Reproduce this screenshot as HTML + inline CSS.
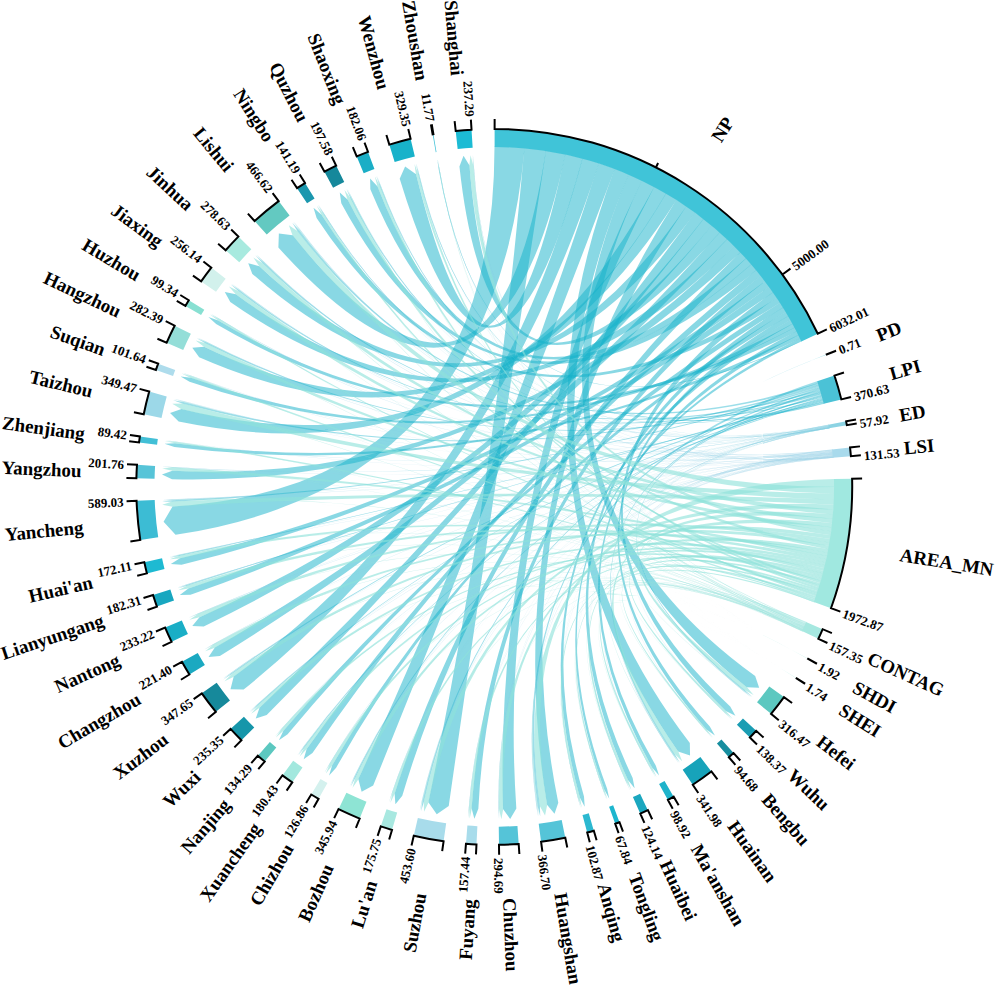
<!DOCTYPE html>
<html><head><meta charset="utf-8"><style>
html,body{margin:0;padding:0;background:#fff;}
svg{display:block;}
.v{font-size:13px;dominant-baseline:central;}
.n{font-size:18.9px;dominant-baseline:central;}
text{font-family:"Liberation Serif",serif;font-weight:bold;fill:#000;}
</style></head><body>
<svg width="996" height="987" viewBox="0 0 996 987">
<rect width="996" height="987" fill="#fff"/>
<path d="M494.52,146.47 A340.40,340.40 0 0 1 524.59,147.82 Q494.25,486.87 175.54,534.82 L163.58,521.74 L172.55,506.46 Q494.25,486.87 494.52,146.47Z" fill="#14B1CA" fill-opacity="0.5"/>
<path d="M524.41,147.81 A340.40,340.40 0 0 1 546.09,150.44 Q494.25,486.87 448.73,805.94 L436.75,814.36 L428.36,802.36 Q494.25,486.87 524.41,147.81Z" fill="#14B1CA" fill-opacity="0.5"/>
<path d="M545.91,150.41 A340.40,340.40 0 0 1 565.47,154.00 Q494.25,486.87 278.39,247.54 L278.87,233.56 L292.74,235.33 Q494.25,486.87 545.91,150.41Z" fill="#14B1CA" fill-opacity="0.5"/>
<path d="M565.29,153.97 A340.40,340.40 0 0 1 582.71,158.17 Q494.25,486.87 399.70,178.75 L405.12,166.54 L416.06,174.20 Q494.25,486.87 565.29,153.97Z" fill="#14B1CA" fill-opacity="0.5"/>
<path d="M582.54,158.12 A340.40,340.40 0 0 1 599.04,163.00 Q494.25,486.87 243.64,689.53 L230.50,689.34 L233.71,676.60 Q494.25,486.87 582.54,158.12Z" fill="#14B1CA" fill-opacity="0.5"/>
<path d="M598.87,162.95 A340.40,340.40 0 0 1 615.02,168.62 Q494.25,486.87 373.17,785.56 L361.62,791.77 L358.29,779.09 Q494.25,486.87 598.87,162.95Z" fill="#14B1CA" fill-opacity="0.5"/>
<path d="M614.85,168.55 A340.40,340.40 0 0 1 628.99,174.27 Q494.25,486.87 689.82,743.05 L690.04,755.62 L678.14,751.56 Q494.25,486.87 614.85,168.55Z" fill="#14B1CA" fill-opacity="0.5"/>
<path d="M628.83,174.20 A340.40,340.40 0 0 1 642.21,180.31 Q494.25,486.87 755.18,676.07 L759.15,687.83 L746.75,687.17 Q494.25,486.87 628.83,174.20Z" fill="#14B1CA" fill-opacity="0.5"/>
<path d="M642.05,180.23 A340.40,340.40 0 0 1 654.59,186.60 Q494.25,486.87 516.34,808.41 L510.18,818.99 L503.03,809.05 Q494.25,486.87 642.05,180.23Z" fill="#14B1CA" fill-opacity="0.5"/>
<path d="M654.44,186.52 A340.40,340.40 0 0 1 666.36,193.18 Q494.25,486.87 178.63,421.61 L170.06,413.02 L181.50,408.99 Q494.25,486.87 654.44,186.52Z" fill="#14B1CA" fill-opacity="0.5"/>
<path d="M666.20,193.09 A340.40,340.40 0 0 1 676.69,199.49 Q494.25,486.87 199.18,357.21 L192.31,347.64 L204.05,346.64 Q494.25,486.87 666.20,193.09Z" fill="#14B1CA" fill-opacity="0.5"/>
<path d="M676.53,199.39 A340.40,340.40 0 0 1 686.62,206.04 Q494.25,486.87 558.29,802.74 L554.52,813.86 L547.04,804.82 Q494.25,486.87 676.53,199.39Z" fill="#14B1CA" fill-opacity="0.5"/>
<path d="M686.47,205.94 A340.40,340.40 0 0 1 695.39,212.25 Q494.25,486.87 252.35,273.88 L248.26,263.16 L259.32,266.22 Q494.25,486.87 686.47,205.94Z" fill="#14B1CA" fill-opacity="0.5"/>
<path d="M695.24,212.14 A340.40,340.40 0 0 1 703.89,218.68 Q494.25,486.87 266.69,715.11 L255.76,718.56 L259.53,707.74 Q494.25,486.87 695.24,212.14Z" fill="#14B1CA" fill-opacity="0.5"/>
<path d="M703.75,218.57 A340.40,340.40 0 0 1 712.11,225.32 Q494.25,486.87 203.73,626.43 L192.30,626.10 L199.47,617.18 Q494.25,486.87 703.75,218.57Z" fill="#14B1CA" fill-opacity="0.5"/>
<path d="M711.97,225.20 A340.40,340.40 0 0 1 720.04,232.13 Q494.25,486.87 459.45,166.45 L463.52,155.79 L469.49,165.52 Q494.25,486.87 711.97,225.20Z" fill="#14B1CA" fill-opacity="0.5"/>
<path d="M719.91,232.02 A340.40,340.40 0 0 1 727.45,238.90 Q494.25,486.87 219.84,655.91 L208.57,656.99 L214.89,647.60 Q494.25,486.87 719.91,232.02Z" fill="#14B1CA" fill-opacity="0.5"/>
<path d="M727.32,238.77 A340.40,340.40 0 0 1 734.55,245.77 Q494.25,486.87 230.29,301.93 L224.79,292.07 L235.88,294.20 Q494.25,486.87 727.32,238.77Z" fill="#14B1CA" fill-opacity="0.5"/>
<path d="M734.42,245.64 A340.40,340.40 0 0 1 740.76,252.13 Q494.25,486.87 172.04,479.24 L161.98,474.56 L172.36,470.64 Q494.25,486.87 734.42,245.64Z" fill="#14B1CA" fill-opacity="0.5"/>
<path d="M740.64,252.00 A340.40,340.40 0 0 1 746.40,258.20 Q494.25,486.87 402.28,795.77 L395.41,804.34 L394.61,793.38 Q494.25,486.87 740.64,252.00Z" fill="#14B1CA" fill-opacity="0.5"/>
<path d="M746.28,258.06 A340.40,340.40 0 0 1 751.72,264.20 Q494.25,486.87 370.33,189.35 L370.12,178.41 L377.54,186.44 Q494.25,486.87 746.28,258.06Z" fill="#14B1CA" fill-opacity="0.5"/>
<path d="M751.61,264.07 A340.40,340.40 0 0 1 756.57,269.93 Q494.25,486.87 341.29,203.18 L339.77,192.44 L347.74,199.79 Q494.25,486.87 751.61,264.07Z" fill="#14B1CA" fill-opacity="0.5"/>
<path d="M756.45,269.79 A340.40,340.40 0 0 1 761.15,275.60 Q494.25,486.87 312.45,753.00 L303.69,759.35 L306.65,748.94 Q494.25,486.87 756.45,269.79Z" fill="#14B1CA" fill-opacity="0.5"/>
<path d="M761.04,275.46 A340.40,340.40 0 0 1 765.40,281.08 Q494.25,486.87 478.34,808.78 L474.36,818.77 L471.60,808.37 Q494.25,486.87 761.04,275.46Z" fill="#14B1CA" fill-opacity="0.5"/>
<path d="M765.29,280.94 A340.40,340.40 0 0 1 769.52,286.62 Q494.25,486.87 181.53,564.85 L170.81,563.95 L179.97,558.32 Q494.25,486.87 765.29,280.94Z" fill="#14B1CA" fill-opacity="0.5"/>
<path d="M769.41,286.48 A340.40,340.40 0 0 1 773.50,292.21 Q494.25,486.87 190.55,594.76 L179.80,594.92 L188.37,588.45 Q494.25,486.87 769.41,286.48Z" fill="#14B1CA" fill-opacity="0.5"/>
<path d="M773.40,292.07 A340.40,340.40 0 0 1 777.18,297.60 Q494.25,486.87 730.20,706.43 L735.42,715.76 L725.83,711.04 Q494.25,486.87 773.40,292.07Z" fill="#14B1CA" fill-opacity="0.5"/>
<path d="M777.08,297.45 A340.40,340.40 0 0 1 780.45,302.59 Q494.25,486.87 316.61,217.95 L313.50,207.79 L321.50,214.78 Q494.25,486.87 777.08,297.45Z" fill="#14B1CA" fill-opacity="0.5"/>
<path d="M780.35,302.43 A340.40,340.40 0 0 1 783.48,307.38 Q494.25,486.87 287.63,734.22 L278.90,740.21 L283.40,730.63 Q494.25,486.87 780.35,302.43Z" fill="#14B1CA" fill-opacity="0.5"/>
<path d="M783.39,307.23 A340.40,340.40 0 0 1 786.21,311.86 Q494.25,486.87 632.65,777.94 L634.62,788.29 L627.98,780.12 Q494.25,486.87 783.39,307.23Z" fill="#14B1CA" fill-opacity="0.5"/>
<path d="M786.12,311.70 A340.40,340.40 0 0 1 788.62,315.94 Q494.25,486.87 336.15,767.73 L329.06,775.43 L332.10,765.41 Q494.25,486.87 786.12,311.70Z" fill="#14B1CA" fill-opacity="0.5"/>
<path d="M788.53,315.78 A340.40,340.40 0 0 1 790.87,319.86 Q494.25,486.87 709.81,726.48 L714.92,735.59 L706.47,729.44 Q494.25,486.87 788.53,315.78Z" fill="#14B1CA" fill-opacity="0.5"/>
<path d="M790.78,319.71 A340.40,340.40 0 0 1 792.97,323.66 Q494.25,486.87 583.99,796.43 L584.70,806.83 L579.86,797.59 Q494.25,486.87 790.78,319.71Z" fill="#14B1CA" fill-opacity="0.5"/>
<path d="M792.89,323.50 A340.40,340.40 0 0 1 795.01,327.44 Q494.25,486.87 189.56,381.78 L180.64,376.39 L190.97,377.78 Q494.25,486.87 792.89,323.50Z" fill="#14B1CA" fill-opacity="0.5"/>
<path d="M794.92,327.28 A340.40,340.40 0 0 1 796.95,331.16 Q494.25,486.87 216.12,324.02 L208.40,317.02 L218.24,320.45 Q494.25,486.87 794.92,327.28Z" fill="#14B1CA" fill-opacity="0.5"/>
<path d="M796.87,331.00 A340.40,340.40 0 0 1 798.84,334.89 Q494.25,486.87 655.85,765.73 L659.11,775.62 L652.26,767.78 Q494.25,486.87 796.87,331.00Z" fill="#14B1CA" fill-opacity="0.5"/>
<path d="M798.76,334.73 A340.40,340.40 0 0 1 800.51,338.28 Q494.25,486.87 174.44,446.91 L164.56,443.73 L174.92,443.19 Q494.25,486.87 798.76,334.73Z" fill="#14B1CA" fill-opacity="0.5"/>
<path d="M800.43,338.12 A340.40,340.40 0 0 1 801.75,340.86 Q494.25,486.87 607.10,788.77 L609.28,798.84 L604.39,789.77 Q494.25,486.87 800.43,338.12Z" fill="#14B1CA" fill-opacity="0.5"/>
<path d="M801.67,340.70 A340.40,340.40 0 0 1 801.96,341.31 Q494.25,486.87 438.68,169.40 L437.25,159.29 L439.32,169.28 Q494.25,486.87 801.67,340.70Z" fill="#14B1CA" fill-opacity="0.5"/>
<path d="M810.47,360.86 A340.40,340.40 0 0 1 810.47,360.86 Q494.25,486.87 536.42,806.40 L537.75,816.51 L536.42,806.40 Q494.25,486.87 810.47,360.86Z" fill="#14B1CA" fill-opacity="0.3"/>
<path d="M810.47,360.86 A340.40,340.40 0 0 1 810.47,360.86 Q494.25,486.87 300.13,229.59 L293.98,221.45 L300.13,229.59 Q494.25,486.87 810.47,360.86Z" fill="#14B1CA" fill-opacity="0.3"/>
<path d="M810.47,360.86 A340.40,340.40 0 0 1 810.47,360.86 Q494.25,486.87 183.58,401.06 L173.75,398.34 L183.58,401.05 Q494.25,486.87 810.47,360.86Z" fill="#14B1CA" fill-opacity="0.3"/>
<path d="M810.47,360.86 A340.40,340.40 0 0 1 810.47,360.86 Q494.25,486.87 172.19,499.41 L162.00,499.81 L172.19,499.41 Q494.25,486.87 810.47,360.86Z" fill="#14B1CA" fill-opacity="0.3"/>
<path d="M810.47,360.86 A340.40,340.40 0 0 1 810.47,360.87 Q494.25,486.87 421.79,800.92 L419.49,810.86 L421.78,800.92 Q494.25,486.87 810.47,360.86Z" fill="#14B1CA" fill-opacity="0.3"/>
<path d="M810.47,360.87 A340.40,340.40 0 0 1 810.47,360.87 Q494.25,486.87 263.83,261.52 L256.54,254.38 L263.83,261.51 Q494.25,486.87 810.47,360.87Z" fill="#14B1CA" fill-opacity="0.3"/>
<path d="M810.47,360.87 A340.40,340.40 0 0 1 810.47,360.87 Q494.25,486.87 672.98,755.07 L678.64,763.56 L672.98,755.07 Q494.25,486.87 810.47,360.87Z" fill="#14B1CA" fill-opacity="0.3"/>
<path d="M810.47,360.87 A340.40,340.40 0 0 1 810.47,360.87 Q494.25,486.87 239.50,289.44 L231.44,283.19 L239.50,289.44 Q494.25,486.87 810.47,360.87Z" fill="#14B1CA" fill-opacity="0.3"/>
<path d="M810.47,360.87 A340.40,340.40 0 0 1 810.47,360.87 Q494.25,486.87 498.51,809.14 L498.65,819.34 L498.51,809.14 Q494.25,486.87 810.47,360.87Z" fill="#14B1CA" fill-opacity="0.3"/>
<path d="M810.47,360.87 A340.40,340.40 0 0 1 810.47,360.87 Q494.25,486.87 206.47,341.74 L197.37,337.15 L206.47,341.74 Q494.25,486.87 810.47,360.87Z" fill="#14B1CA" fill-opacity="0.3"/>
<path d="M810.47,360.87 A340.40,340.40 0 0 1 810.47,360.87 Q494.25,486.87 473.78,165.22 L473.13,155.04 L473.78,165.22 Q494.25,486.87 810.47,360.87Z" fill="#14B1CA" fill-opacity="0.3"/>
<path d="M810.47,360.87 A340.40,340.40 0 0 1 810.47,360.88 Q494.25,486.87 743.48,691.23 L751.36,697.70 L743.48,691.23 Q494.25,486.87 810.47,360.87Z" fill="#14B1CA" fill-opacity="0.3"/>
<path d="M810.47,360.88 A340.40,340.40 0 0 1 810.47,360.88 Q494.25,486.87 197.89,613.56 L188.51,617.56 L197.89,613.55 Q494.25,486.87 810.47,360.88Z" fill="#14B1CA" fill-opacity="0.3"/>
<path d="M810.47,360.88 A340.40,340.40 0 0 1 810.48,360.88 Q494.25,486.87 230.95,672.75 L222.62,678.63 L230.95,672.75 Q494.25,486.87 810.47,360.88Z" fill="#14B1CA" fill-opacity="0.3"/>
<path d="M810.48,360.88 A340.40,340.40 0 0 1 810.48,360.88 Q494.25,486.87 351.95,197.68 L347.45,188.53 L351.95,197.68 Q494.25,486.87 810.48,360.88Z" fill="#14B1CA" fill-opacity="0.3"/>
<path d="M810.48,360.88 A340.40,340.40 0 0 1 810.48,360.88 Q494.25,486.87 354.04,777.07 L349.60,786.26 L354.04,777.07 Q494.25,486.87 810.48,360.88Z" fill="#14B1CA" fill-opacity="0.3"/>
<path d="M810.48,360.88 A340.40,340.40 0 0 1 810.48,360.88 Q494.25,486.87 213.04,644.34 L204.14,649.32 L213.03,644.34 Q494.25,486.87 810.48,360.88Z" fill="#14B1CA" fill-opacity="0.3"/>
<path d="M810.48,360.88 A340.40,340.40 0 0 1 810.48,360.88 Q494.25,486.87 172.56,467.00 L162.38,466.37 L172.56,467.00 Q494.25,486.87 810.48,360.88Z" fill="#14B1CA" fill-opacity="0.3"/>
<path d="M810.48,360.88 A340.40,340.40 0 0 1 810.48,360.88 Q494.25,486.87 187.02,584.27 L177.30,587.35 L187.02,584.27 Q494.25,486.87 810.48,360.88Z" fill="#14B1CA" fill-opacity="0.3"/>
<path d="M810.48,360.88 A340.40,340.40 0 0 1 810.48,360.89 Q494.25,486.87 256.81,704.81 L249.29,711.71 L256.81,704.81 Q494.25,486.87 810.48,360.88Z" fill="#14B1CA" fill-opacity="0.3"/>
<path d="M810.48,360.89 A340.40,340.40 0 0 1 810.48,360.89 Q494.25,486.87 303.51,746.67 L297.47,754.89 L303.51,746.67 Q494.25,486.87 810.48,360.89Z" fill="#14B1CA" fill-opacity="0.3"/>
<path d="M810.48,360.89 A340.40,340.40 0 0 1 810.48,360.89 Q494.25,486.87 329.46,763.86 L324.25,772.62 L329.46,763.86 Q494.25,486.87 810.48,360.89Z" fill="#14B1CA" fill-opacity="0.3"/>
<path d="M810.48,360.89 A340.40,340.40 0 0 1 810.48,360.89 Q494.25,486.87 179.16,554.66 L169.19,556.81 L179.16,554.66 Q494.25,486.87 810.48,360.89Z" fill="#14B1CA" fill-opacity="0.3"/>
<path d="M810.48,360.89 A340.40,340.40 0 0 1 810.48,360.89 Q494.25,486.87 468.79,808.16 L467.98,818.33 L468.78,808.16 Q494.25,486.87 810.48,360.89Z" fill="#14B1CA" fill-opacity="0.3"/>
<path d="M810.48,360.89 A340.40,340.40 0 0 1 810.48,360.89 Q494.25,486.87 392.09,792.55 L388.86,802.23 L392.09,792.55 Q494.25,486.87 810.48,360.89Z" fill="#14B1CA" fill-opacity="0.3"/>
<path d="M810.48,360.89 A340.40,340.40 0 0 1 810.48,360.89 Q494.25,486.87 281.42,728.90 L274.68,736.56 L281.41,728.90 Q494.25,486.87 810.48,360.89Z" fill="#14B1CA" fill-opacity="0.3"/>
<path d="M810.48,360.89 A340.40,340.40 0 0 1 810.48,360.89 Q494.25,486.87 380.61,185.27 L377.01,175.73 L380.61,185.27 Q494.25,486.87 810.48,360.89Z" fill="#14B1CA" fill-opacity="0.3"/>
<path d="M810.48,360.89 A340.40,340.40 0 0 1 810.48,360.89 Q494.25,486.87 625.77,781.11 L629.93,790.43 L625.77,781.11 Q494.25,486.87 810.48,360.89Z" fill="#14B1CA" fill-opacity="0.3"/>
<path d="M810.48,360.89 A340.40,340.40 0 0 1 810.48,360.89 Q494.25,486.87 418.93,173.50 L416.54,163.58 L418.93,173.50 Q494.25,486.87 810.48,360.89Z" fill="#14B1CA" fill-opacity="0.3"/>
<path d="M810.48,360.89 A340.40,340.40 0 0 1 810.48,360.89 Q494.25,486.87 323.84,213.30 L318.45,204.65 L323.84,213.30 Q494.25,486.87 810.48,360.89Z" fill="#14B1CA" fill-opacity="0.3"/>
<path d="M810.48,360.89 A340.40,340.40 0 0 1 810.48,360.89 Q494.25,486.87 724.38,712.52 L731.66,719.66 L724.38,712.52 Q494.25,486.87 810.48,360.89Z" fill="#14B1CA" fill-opacity="0.3"/>
<path d="M810.48,360.89 A340.40,340.40 0 0 1 810.48,360.89 Q494.25,486.87 577.93,798.12 L580.58,807.97 L577.93,798.12 Q494.25,486.87 810.48,360.89Z" fill="#14B1CA" fill-opacity="0.3"/>
<path d="M810.48,360.89 A340.40,340.40 0 0 1 810.48,360.90 Q494.25,486.87 191.65,375.93 L182.07,372.42 L191.65,375.93 Q494.25,486.87 810.48,360.89Z" fill="#14B1CA" fill-opacity="0.3"/>
<path d="M810.48,360.90 A340.40,340.40 0 0 1 810.48,360.90 Q494.25,486.87 219.24,318.81 L210.53,313.49 L219.24,318.81 Q494.25,486.87 810.48,360.90Z" fill="#14B1CA" fill-opacity="0.3"/>
<path d="M810.48,360.90 A340.40,340.40 0 0 1 810.48,360.90 Q494.25,486.87 650.59,768.71 L655.53,777.63 L650.59,768.71 Q494.25,486.87 810.48,360.90Z" fill="#14B1CA" fill-opacity="0.3"/>
<path d="M810.48,360.90 A340.40,340.40 0 0 1 810.48,360.90 Q494.25,486.87 175.16,441.48 L165.06,440.05 L175.16,441.48 Q494.25,486.87 810.48,360.90Z" fill="#14B1CA" fill-opacity="0.3"/>
<path d="M810.48,360.90 A340.40,340.40 0 0 1 810.48,360.90 Q494.25,486.87 705.47,730.31 L712.15,738.02 L705.47,730.31 Q494.25,486.87 810.48,360.90Z" fill="#14B1CA" fill-opacity="0.3"/>
<path d="M810.48,360.90 A340.40,340.40 0 0 1 810.48,360.90 Q494.25,486.87 603.18,790.20 L606.63,799.80 L603.18,790.20 Q494.25,486.87 810.48,360.90Z" fill="#14B1CA" fill-opacity="0.3"/>
<path d="M810.48,360.90 A340.40,340.40 0 0 1 810.48,360.90 Q494.25,486.87 439.47,169.26 L437.74,159.21 L439.47,169.26 Q494.25,486.87 810.48,360.90Z" fill="#14B1CA" fill-opacity="0.3"/>
<path d="M817.75,380.94 A340.40,340.40 0 0 1 818.50,383.27 Q494.25,486.87 539.93,805.92 L540.19,816.18 L537.63,806.24 Q494.25,486.87 817.75,380.94Z" fill="#14B1CA" fill-opacity="0.42"/>
<path d="M818.45,383.10 A340.40,340.40 0 0 1 819.10,385.16 Q494.25,486.87 297.65,231.47 L292.27,222.75 L299.29,230.22 Q494.25,486.87 818.45,383.10Z" fill="#14B1CA" fill-opacity="0.42"/>
<path d="M819.04,384.98 A340.40,340.40 0 0 1 819.61,386.82 Q494.25,486.87 182.87,403.70 L173.26,400.16 L183.34,401.94 Q494.25,486.87 819.04,384.98Z" fill="#14B1CA" fill-opacity="0.42"/>
<path d="M819.56,386.64 A340.40,340.40 0 0 1 820.05,388.25 Q494.25,486.87 172.30,501.78 L162.07,501.43 L172.23,500.19 Q494.25,486.87 819.56,386.64Z" fill="#14B1CA" fill-opacity="0.42"/>
<path d="M820.00,388.08 A340.40,340.40 0 0 1 820.46,389.62 Q494.25,486.87 424.00,801.42 L421.00,811.20 L422.50,801.08 Q494.25,486.87 820.00,388.08Z" fill="#14B1CA" fill-opacity="0.42"/>
<path d="M820.41,389.45 A340.40,340.40 0 0 1 820.86,390.95 Q494.25,486.87 262.30,263.09 L255.49,255.46 L263.34,262.02 Q494.25,486.87 820.41,389.45Z" fill="#14B1CA" fill-opacity="0.42"/>
<path d="M820.80,390.78 A340.40,340.40 0 0 1 821.23,392.22 Q494.25,486.87 674.74,753.89 L679.83,762.76 L673.54,754.70 Q494.25,486.87 820.80,390.78Z" fill="#14B1CA" fill-opacity="0.42"/>
<path d="M821.18,392.05 A340.40,340.40 0 0 1 821.58,393.45 Q494.25,486.87 238.26,291.05 L230.59,284.28 L239.11,289.95 Q494.25,486.87 821.18,392.05Z" fill="#14B1CA" fill-opacity="0.42"/>
<path d="M821.53,393.27 A340.40,340.40 0 0 1 821.90,394.57 Q494.25,486.87 205.64,343.41 L196.80,338.28 L206.21,342.26 Q494.25,486.87 821.53,393.27Z" fill="#14B1CA" fill-opacity="0.42"/>
<path d="M821.85,394.39 A340.40,340.40 0 0 1 822.20,395.64 Q494.25,486.87 744.61,689.85 L752.13,696.76 L743.83,690.80 Q494.25,486.87 821.85,394.39Z" fill="#14B1CA" fill-opacity="0.42"/>
<path d="M822.15,395.47 A340.40,340.40 0 0 1 822.47,396.62 Q494.25,486.87 231.90,674.08 L223.25,679.53 L231.24,673.16 Q494.25,486.87 822.15,395.47Z" fill="#14B1CA" fill-opacity="0.42"/>
<path d="M822.42,396.44 A340.40,340.40 0 0 1 822.73,397.59 Q494.25,486.87 350.50,198.40 L346.47,189.01 L351.51,197.90 Q494.25,486.87 822.42,396.44Z" fill="#14B1CA" fill-opacity="0.42"/>
<path d="M822.68,397.41 A340.40,340.40 0 0 1 822.99,398.56 Q494.25,486.87 355.50,777.78 L350.58,786.73 L354.48,777.29 Q494.25,486.87 822.68,397.41Z" fill="#14B1CA" fill-opacity="0.42"/>
<path d="M822.95,398.38 A340.40,340.40 0 0 1 823.24,399.47 Q494.25,486.87 187.48,585.72 L177.60,588.32 L187.16,584.70 Q494.25,486.87 822.95,398.38Z" fill="#14B1CA" fill-opacity="0.42"/>
<path d="M823.19,399.29 A340.40,340.40 0 0 1 823.46,400.29 Q494.25,486.87 257.75,705.84 L249.92,712.39 L257.08,705.11 Q494.25,486.87 823.19,399.29Z" fill="#14B1CA" fill-opacity="0.42"/>
<path d="M823.41,400.12 A340.40,340.40 0 0 1 823.67,401.10 Q494.25,486.87 304.60,747.47 L298.20,755.42 L303.82,746.90 Q494.25,486.87 823.41,400.12Z" fill="#14B1CA" fill-opacity="0.42"/>
<path d="M823.62,400.92 A340.40,340.40 0 0 1 823.87,401.88 Q494.25,486.87 179.44,555.95 L169.37,557.66 L179.24,555.03 Q494.25,486.87 823.62,400.92Z" fill="#14B1CA" fill-opacity="0.42"/>
<path d="M823.82,401.70 A340.40,340.40 0 0 1 824.04,402.56 Q494.25,486.87 379.52,185.68 L376.29,176.00 L380.31,185.38 Q494.25,486.87 823.82,401.70Z" fill="#14B1CA" fill-opacity="0.42"/>
<path d="M824.00,402.39 A340.40,340.40 0 0 1 824.20,403.18 Q494.25,486.87 417.89,173.75 L415.87,163.74 L418.66,173.56 Q494.25,486.87 824.00,402.39Z" fill="#14B1CA" fill-opacity="0.42"/>
<path d="M824.16,403.01 A340.40,340.40 0 0 1 824.35,403.76 Q494.25,486.87 322.99,213.84 L317.90,204.99 L323.62,213.44 Q494.25,486.87 824.16,403.01Z" fill="#14B1CA" fill-opacity="0.42"/>
<path d="M828.89,424.49 A340.40,340.40 0 0 1 828.96,424.90 Q494.25,486.87 536.74,806.36 L537.88,816.50 L536.34,806.41 Q494.25,486.87 828.89,424.49Z" fill="#7CCFE2" fill-opacity="0.45"/>
<path d="M828.93,424.72 A340.40,340.40 0 0 1 829.00,425.09 Q494.25,486.87 299.89,229.76 L293.90,221.51 L300.19,229.54 Q494.25,486.87 828.93,424.72Z" fill="#7CCFE2" fill-opacity="0.45"/>
<path d="M828.96,424.91 A340.40,340.40 0 0 1 829.03,425.26 Q494.25,486.87 183.51,401.31 L173.73,398.43 L183.61,400.98 Q494.25,486.87 828.96,424.91Z" fill="#7CCFE2" fill-opacity="0.45"/>
<path d="M829.00,425.09 A340.40,340.40 0 0 1 829.06,425.41 Q494.25,486.87 172.20,499.65 L162.01,499.89 L172.19,499.33 Q494.25,486.87 829.00,425.09Z" fill="#7CCFE2" fill-opacity="0.45"/>
<path d="M829.02,425.24 A340.40,340.40 0 0 1 829.08,425.55 Q494.25,486.87 422.01,800.97 L419.57,810.87 L421.71,800.90 Q494.25,486.87 829.02,425.24Z" fill="#7CCFE2" fill-opacity="0.45"/>
<path d="M829.05,425.38 A340.40,340.40 0 0 1 829.11,425.69 Q494.25,486.87 263.67,261.68 L256.49,254.44 L263.89,261.46 Q494.25,486.87 829.05,425.38Z" fill="#7CCFE2" fill-opacity="0.45"/>
<path d="M829.07,425.51 A340.40,340.40 0 0 1 829.13,425.82 Q494.25,486.87 673.17,754.95 L678.70,763.52 L672.91,755.12 Q494.25,486.87 829.07,425.51Z" fill="#7CCFE2" fill-opacity="0.45"/>
<path d="M829.10,425.65 A340.40,340.40 0 0 1 829.15,425.95 Q494.25,486.87 239.37,289.61 L231.39,283.24 L239.55,289.37 Q494.25,486.87 829.10,425.65Z" fill="#7CCFE2" fill-opacity="0.45"/>
<path d="M829.12,425.77 A340.40,340.40 0 0 1 829.18,426.07 Q494.25,486.87 498.73,809.14 L498.72,819.34 L498.43,809.14 Q494.25,486.87 829.12,425.77Z" fill="#7CCFE2" fill-opacity="0.45"/>
<path d="M829.14,425.89 A340.40,340.40 0 0 1 829.20,426.18 Q494.25,486.87 206.38,341.93 L197.34,337.21 L206.51,341.67 Q494.25,486.87 829.14,425.89Z" fill="#7CCFE2" fill-opacity="0.45"/>
<path d="M829.16,426.01 A340.40,340.40 0 0 1 829.22,426.30 Q494.25,486.87 473.57,165.23 L473.07,155.05 L473.86,165.22 Q494.25,486.87 829.16,426.01Z" fill="#7CCFE2" fill-opacity="0.45"/>
<path d="M829.19,426.12 A340.40,340.40 0 0 1 829.24,426.41 Q494.25,486.87 743.61,691.07 L751.40,697.65 L743.42,691.30 Q494.25,486.87 829.19,426.12Z" fill="#7CCFE2" fill-opacity="0.45"/>
<path d="M829.21,426.23 A340.40,340.40 0 0 1 829.26,426.51 Q494.25,486.87 197.97,613.74 L188.54,617.62 L197.86,613.48 Q494.25,486.87 829.21,426.23Z" fill="#7CCFE2" fill-opacity="0.45"/>
<path d="M829.22,426.33 A340.40,340.40 0 0 1 829.27,426.61 Q494.25,486.87 231.06,672.91 L222.65,678.68 L230.91,672.68 Q494.25,486.87 829.22,426.33Z" fill="#7CCFE2" fill-opacity="0.45"/>
<path d="M829.24,426.44 A340.40,340.40 0 0 1 829.29,426.71 Q494.25,486.87 351.78,197.77 L347.40,188.56 L352.03,197.65 Q494.25,486.87 829.24,426.44Z" fill="#7CCFE2" fill-opacity="0.45"/>
<path d="M829.26,426.53 A340.40,340.40 0 0 1 829.31,426.81 Q494.25,486.87 354.21,777.16 L349.65,786.28 L353.96,777.04 Q494.25,486.87 829.26,426.53Z" fill="#7CCFE2" fill-opacity="0.45"/>
<path d="M829.28,426.63 A340.40,340.40 0 0 1 829.33,426.91 Q494.25,486.87 213.13,644.50 L204.16,649.37 L212.99,644.26 Q494.25,486.87 829.28,426.63Z" fill="#7CCFE2" fill-opacity="0.45"/>
<path d="M829.30,426.73 A340.40,340.40 0 0 1 829.35,427.01 Q494.25,486.87 172.55,467.19 L162.38,466.43 L172.57,466.92 Q494.25,486.87 829.30,426.73Z" fill="#7CCFE2" fill-opacity="0.45"/>
<path d="M829.31,426.83 A340.40,340.40 0 0 1 829.36,427.10 Q494.25,486.87 187.07,584.44 L177.31,587.40 L186.99,584.19 Q494.25,486.87 829.31,426.83Z" fill="#7CCFE2" fill-opacity="0.45"/>
<path d="M829.33,426.92 A340.40,340.40 0 0 1 829.38,427.19 Q494.25,486.87 256.93,704.94 L249.33,711.75 L256.75,704.75 Q494.25,486.87 829.33,426.92Z" fill="#7CCFE2" fill-opacity="0.45"/>
<path d="M829.35,427.01 A340.40,340.40 0 0 1 829.39,427.27 Q494.25,486.87 303.65,746.77 L297.51,754.92 L303.44,746.62 Q494.25,486.87 829.35,427.01Z" fill="#7CCFE2" fill-opacity="0.45"/>
<path d="M829.36,427.09 A340.40,340.40 0 0 1 829.41,427.35 Q494.25,486.87 329.61,763.95 L324.28,772.65 L329.39,763.81 Q494.25,486.87 829.36,427.09Z" fill="#7CCFE2" fill-opacity="0.45"/>
<path d="M829.37,427.17 A340.40,340.40 0 0 1 829.42,427.43 Q494.25,486.87 179.20,554.83 L169.20,556.85 L179.14,554.58 Q494.25,486.87 829.37,427.17Z" fill="#7CCFE2" fill-opacity="0.45"/>
<path d="M829.39,427.25 A340.40,340.40 0 0 1 829.43,427.51 Q494.25,486.87 468.95,808.18 L468.02,818.33 L468.70,808.16 Q494.25,486.87 829.39,427.25Z" fill="#7CCFE2" fill-opacity="0.45"/>
<path d="M829.40,427.33 A340.40,340.40 0 0 1 829.45,427.58 Q494.25,486.87 392.25,792.60 L388.90,802.24 L392.01,792.52 Q494.25,486.87 829.40,427.33Z" fill="#7CCFE2" fill-opacity="0.45"/>
<path d="M829.41,427.40 A340.40,340.40 0 0 1 829.46,427.65 Q494.25,486.87 281.54,729.01 L274.71,736.59 L281.35,728.84 Q494.25,486.87 829.41,427.40Z" fill="#7CCFE2" fill-opacity="0.45"/>
<path d="M829.43,427.47 A340.40,340.40 0 0 1 829.47,427.72 Q494.25,486.87 380.46,185.33 L376.97,175.74 L380.69,185.24 Q494.25,486.87 829.43,427.47Z" fill="#7CCFE2" fill-opacity="0.45"/>
<path d="M829.44,427.54 A340.40,340.40 0 0 1 829.48,427.78 Q494.25,486.87 625.92,781.05 L629.97,790.41 L625.69,781.15 Q494.25,486.87 829.44,427.54Z" fill="#7CCFE2" fill-opacity="0.45"/>
<path d="M829.45,427.61 A340.40,340.40 0 0 1 829.49,427.85 Q494.25,486.87 418.78,173.53 L416.51,163.59 L419.01,173.48 Q494.25,486.87 829.45,427.61Z" fill="#7CCFE2" fill-opacity="0.45"/>
<path d="M829.46,427.67 A340.40,340.40 0 0 1 829.50,427.91 Q494.25,486.87 323.71,213.38 L318.42,204.66 L323.92,213.26 Q494.25,486.87 829.46,427.67Z" fill="#7CCFE2" fill-opacity="0.45"/>
<path d="M829.47,427.73 A340.40,340.40 0 0 1 829.51,427.96 Q494.25,486.87 724.48,712.41 L731.69,719.64 L724.32,712.58 Q494.25,486.87 829.47,427.73Z" fill="#7CCFE2" fill-opacity="0.45"/>
<path d="M829.48,427.78 A340.40,340.40 0 0 1 829.52,428.02 Q494.25,486.87 578.07,798.08 L580.61,807.96 L577.85,798.14 Q494.25,486.87 829.48,427.78Z" fill="#7CCFE2" fill-opacity="0.45"/>
<path d="M829.49,427.84 A340.40,340.40 0 0 1 829.53,428.07 Q494.25,486.87 191.60,376.07 L182.06,372.45 L191.68,375.85 Q494.25,486.87 829.49,427.84Z" fill="#7CCFE2" fill-opacity="0.45"/>
<path d="M829.50,427.89 A340.40,340.40 0 0 1 829.54,428.12 Q494.25,486.87 219.16,318.93 L210.52,313.51 L219.28,318.73 Q494.25,486.87 829.50,427.89Z" fill="#7CCFE2" fill-opacity="0.45"/>
<path d="M829.51,427.94 A340.40,340.40 0 0 1 829.55,428.17 Q494.25,486.87 650.71,768.64 L655.56,777.62 L650.51,768.76 Q494.25,486.87 829.51,427.94Z" fill="#7CCFE2" fill-opacity="0.45"/>
<path d="M829.52,428.00 A340.40,340.40 0 0 1 829.56,428.22 Q494.25,486.87 175.14,441.62 L165.06,440.07 L175.17,441.40 Q494.25,486.87 829.52,428.00Z" fill="#7CCFE2" fill-opacity="0.45"/>
<path d="M829.53,428.04 A340.40,340.40 0 0 1 829.57,428.26 Q494.25,486.87 705.56,730.23 L712.17,738.00 L705.40,730.37 Q494.25,486.87 829.53,428.04Z" fill="#7CCFE2" fill-opacity="0.45"/>
<path d="M829.53,428.08 A340.40,340.40 0 0 1 829.57,428.29 Q494.25,486.87 603.30,790.16 L606.65,799.80 L603.10,790.23 Q494.25,486.87 829.53,428.08Z" fill="#7CCFE2" fill-opacity="0.45"/>
<path d="M829.54,428.11 A340.40,340.40 0 0 1 829.57,428.30 Q494.25,486.87 439.37,169.28 L437.73,159.21 L439.56,169.24 Q494.25,486.87 829.54,428.11Z" fill="#7CCFE2" fill-opacity="0.45"/>
<path d="M832.57,449.31 A340.40,340.40 0 0 1 832.65,450.00 Q494.25,486.87 537.22,806.29 L538.24,816.45 L536.56,806.38 Q494.25,486.87 832.57,449.31Z" fill="#9AD4EA" fill-opacity="0.5"/>
<path d="M832.63,449.83 A340.40,340.40 0 0 1 832.70,450.45 Q494.25,486.87 299.55,230.02 L293.64,221.71 L300.04,229.66 Q494.25,486.87 832.63,449.83Z" fill="#9AD4EA" fill-opacity="0.5"/>
<path d="M832.68,450.28 A340.40,340.40 0 0 1 832.74,450.85 Q494.25,486.87 183.41,401.67 L173.65,398.70 L183.56,401.14 Q494.25,486.87 832.68,450.28Z" fill="#9AD4EA" fill-opacity="0.5"/>
<path d="M832.72,450.67 A340.40,340.40 0 0 1 832.77,451.19 Q494.25,486.87 172.22,499.98 L162.01,500.13 L172.20,499.47 Q494.25,486.87 832.72,450.67Z" fill="#9AD4EA" fill-opacity="0.5"/>
<path d="M832.76,451.01 A340.40,340.40 0 0 1 832.81,451.52 Q494.25,486.87 422.32,801.04 L419.79,810.93 L421.84,800.93 Q494.25,486.87 832.76,451.01Z" fill="#9AD4EA" fill-opacity="0.5"/>
<path d="M832.79,451.34 A340.40,340.40 0 0 1 832.84,451.83 Q494.25,486.87 263.46,261.89 L256.33,254.60 L263.80,261.55 Q494.25,486.87 832.79,451.34Z" fill="#9AD4EA" fill-opacity="0.5"/>
<path d="M832.82,451.65 A340.40,340.40 0 0 1 832.87,452.13 Q494.25,486.87 673.41,754.79 L678.88,763.40 L673.02,755.05 Q494.25,486.87 832.82,451.65Z" fill="#9AD4EA" fill-opacity="0.5"/>
<path d="M832.85,451.95 A340.40,340.40 0 0 1 832.90,452.42 Q494.25,486.87 239.20,289.83 L231.27,283.41 L239.48,289.47 Q494.25,486.87 832.85,451.95Z" fill="#9AD4EA" fill-opacity="0.5"/>
<path d="M832.88,452.24 A340.40,340.40 0 0 1 832.93,452.70 Q494.25,486.87 498.99,809.14 L498.91,819.34 L498.55,809.14 Q494.25,486.87 832.88,452.24Z" fill="#9AD4EA" fill-opacity="0.5"/>
<path d="M832.91,452.52 A340.40,340.40 0 0 1 832.96,452.96 Q494.25,486.87 206.27,342.16 L197.25,337.38 L206.46,341.77 Q494.25,486.87 832.91,452.52Z" fill="#9AD4EA" fill-opacity="0.5"/>
<path d="M832.94,452.78 A340.40,340.40 0 0 1 832.98,453.22 Q494.25,486.87 473.33,165.25 L472.89,155.06 L473.75,165.22 Q494.25,486.87 832.94,452.78Z" fill="#9AD4EA" fill-opacity="0.5"/>
<path d="M832.97,453.04 A340.40,340.40 0 0 1 833.01,453.48 Q494.25,486.87 743.76,690.89 L751.52,697.51 L743.49,691.21 Q494.25,486.87 832.97,453.04Z" fill="#9AD4EA" fill-opacity="0.5"/>
<path d="M832.99,453.30 A340.40,340.40 0 0 1 833.03,453.72 Q494.25,486.87 198.06,613.95 L188.60,617.77 L197.90,613.57 Q494.25,486.87 832.99,453.30Z" fill="#9AD4EA" fill-opacity="0.5"/>
<path d="M833.01,453.54 A340.40,340.40 0 0 1 833.05,453.95 Q494.25,486.87 231.19,673.09 L222.75,678.81 L230.96,672.76 Q494.25,486.87 833.01,453.54Z" fill="#9AD4EA" fill-opacity="0.5"/>
<path d="M833.04,453.77 A340.40,340.40 0 0 1 833.08,454.18 Q494.25,486.87 351.59,197.86 L347.25,188.63 L351.94,197.69 Q494.25,486.87 833.04,453.77Z" fill="#9AD4EA" fill-opacity="0.5"/>
<path d="M833.06,454.00 A340.40,340.40 0 0 1 833.10,454.40 Q494.25,486.87 354.41,777.25 L349.80,786.35 L354.05,777.08 Q494.25,486.87 833.06,454.00Z" fill="#9AD4EA" fill-opacity="0.5"/>
<path d="M833.08,454.22 A340.40,340.40 0 0 1 833.12,454.63 Q494.25,486.87 213.24,644.69 L204.24,649.51 L213.04,644.35 Q494.25,486.87 833.08,454.22Z" fill="#9AD4EA" fill-opacity="0.5"/>
<path d="M833.10,454.45 A340.40,340.40 0 0 1 833.14,454.86 Q494.25,486.87 172.54,467.40 L162.37,466.58 L172.56,467.01 Q494.25,486.87 833.10,454.45Z" fill="#9AD4EA" fill-opacity="0.5"/>
<path d="M833.12,454.68 A340.40,340.40 0 0 1 833.16,455.07 Q494.25,486.87 187.14,584.64 L177.36,587.54 L187.02,584.27 Q494.25,486.87 833.12,454.68Z" fill="#9AD4EA" fill-opacity="0.5"/>
<path d="M833.14,454.89 A340.40,340.40 0 0 1 833.18,455.26 Q494.25,486.87 257.05,705.08 L249.42,711.85 L256.81,704.81 Q494.25,486.87 833.14,454.89Z" fill="#9AD4EA" fill-opacity="0.5"/>
<path d="M833.16,455.08 A340.40,340.40 0 0 1 833.20,455.45 Q494.25,486.87 303.79,746.88 L297.62,755.00 L303.50,746.66 Q494.25,486.87 833.16,455.08Z" fill="#9AD4EA" fill-opacity="0.5"/>
<path d="M833.18,455.27 A340.40,340.40 0 0 1 833.21,455.64 Q494.25,486.87 329.76,764.04 L324.40,772.71 L329.46,763.85 Q494.25,486.87 833.18,455.27Z" fill="#9AD4EA" fill-opacity="0.5"/>
<path d="M833.20,455.46 A340.40,340.40 0 0 1 833.23,455.82 Q494.25,486.87 179.23,555.00 L169.23,556.98 L179.16,554.66 Q494.25,486.87 833.20,455.46Z" fill="#9AD4EA" fill-opacity="0.5"/>
<path d="M833.21,455.64 A340.40,340.40 0 0 1 833.25,456.00 Q494.25,486.87 469.12,808.19 L468.14,818.34 L468.77,808.16 Q494.25,486.87 833.21,455.64Z" fill="#9AD4EA" fill-opacity="0.5"/>
<path d="M833.23,455.82 A340.40,340.40 0 0 1 833.26,456.16 Q494.25,486.87 392.40,792.65 L389.01,802.28 L392.08,792.55 Q494.25,486.87 833.23,455.82Z" fill="#9AD4EA" fill-opacity="0.5"/>
<path d="M833.25,455.98 A340.40,340.40 0 0 1 833.28,456.32 Q494.25,486.87 281.65,729.11 L274.80,736.66 L281.40,728.89 Q494.25,486.87 833.25,455.98Z" fill="#9AD4EA" fill-opacity="0.5"/>
<path d="M833.26,456.14 A340.40,340.40 0 0 1 833.29,456.48 Q494.25,486.87 380.31,185.38 L376.87,175.78 L380.62,185.26 Q494.25,486.87 833.26,456.14Z" fill="#9AD4EA" fill-opacity="0.5"/>
<path d="M833.27,456.30 A340.40,340.40 0 0 1 833.30,456.63 Q494.25,486.87 626.05,780.99 L630.06,790.37 L625.75,781.12 Q494.25,486.87 833.27,456.30Z" fill="#9AD4EA" fill-opacity="0.5"/>
<path d="M833.29,456.45 A340.40,340.40 0 0 1 833.32,456.78 Q494.25,486.87 418.64,173.56 L416.41,163.61 L418.95,173.49 Q494.25,486.87 833.29,456.45Z" fill="#9AD4EA" fill-opacity="0.5"/>
<path d="M833.30,456.60 A340.40,340.40 0 0 1 833.33,456.92 Q494.25,486.87 323.60,213.45 L318.34,204.71 L323.87,213.29 Q494.25,486.87 833.30,456.60Z" fill="#9AD4EA" fill-opacity="0.5"/>
<path d="M833.31,456.74 A340.40,340.40 0 0 1 833.34,457.04 Q494.25,486.87 724.57,712.33 L731.75,719.57 L724.36,712.54 Q494.25,486.87 833.31,456.74Z" fill="#9AD4EA" fill-opacity="0.5"/>
<path d="M833.32,456.86 A340.40,340.40 0 0 1 833.35,457.17 Q494.25,486.87 578.19,798.05 L580.69,807.94 L577.90,798.13 Q494.25,486.87 833.32,456.86Z" fill="#9AD4EA" fill-opacity="0.5"/>
<path d="M833.34,456.99 A340.40,340.40 0 0 1 833.36,457.29 Q494.25,486.87 191.56,376.17 L182.03,372.53 L191.66,375.90 Q494.25,486.87 833.34,456.99Z" fill="#9AD4EA" fill-opacity="0.5"/>
<path d="M833.35,457.11 A340.40,340.40 0 0 1 833.37,457.41 Q494.25,486.87 219.10,319.03 L210.47,313.59 L219.26,318.78 Q494.25,486.87 833.35,457.11Z" fill="#9AD4EA" fill-opacity="0.5"/>
<path d="M833.36,457.23 A340.40,340.40 0 0 1 833.38,457.53 Q494.25,486.87 650.81,768.59 L655.63,777.58 L650.56,768.73 Q494.25,486.87 833.36,457.23Z" fill="#9AD4EA" fill-opacity="0.5"/>
<path d="M833.37,457.35 A340.40,340.40 0 0 1 833.39,457.64 Q494.25,486.87 175.13,441.72 L165.05,440.15 L175.17,441.44 Q494.25,486.87 833.37,457.35Z" fill="#9AD4EA" fill-opacity="0.5"/>
<path d="M833.38,457.46 A340.40,340.40 0 0 1 833.40,457.72 Q494.25,486.87 705.63,730.18 L712.21,737.96 L705.43,730.35 Q494.25,486.87 833.38,457.46Z" fill="#9AD4EA" fill-opacity="0.5"/>
<path d="M833.38,457.54 A340.40,340.40 0 0 1 833.41,457.80 Q494.25,486.87 603.37,790.13 L606.70,799.78 L603.13,790.22 Q494.25,486.87 833.38,457.54Z" fill="#9AD4EA" fill-opacity="0.5"/>
<path d="M833.39,457.62 A340.40,340.40 0 0 1 833.41,457.82 Q494.25,486.87 439.36,169.28 L437.72,159.21 L439.55,169.25 Q494.25,486.87 833.39,457.62Z" fill="#9AD4EA" fill-opacity="0.5"/>
<path d="M834.56,479.01 A340.40,340.40 0 0 1 834.65,486.97 Q494.25,486.87 547.22,804.79 L545.05,815.47 L539.76,805.94 Q494.25,486.87 834.56,479.01Z" fill="#8EE2DA" fill-opacity="0.62"/>
<path d="M834.65,486.79 A340.40,340.40 0 0 1 834.58,493.76 Q494.25,486.87 292.60,235.45 L288.89,225.37 L297.80,231.36 Q494.25,486.87 834.65,486.79Z" fill="#8EE2DA" fill-opacity="0.62"/>
<path d="M834.58,493.58 A340.40,340.40 0 0 1 834.41,499.72 Q494.25,486.87 181.46,409.16 L172.30,403.79 L182.91,403.52 Q494.25,486.87 834.58,493.58Z" fill="#8EE2DA" fill-opacity="0.62"/>
<path d="M834.41,499.54 A340.40,340.40 0 0 1 834.17,504.86 Q494.25,486.87 172.56,506.64 L162.23,504.67 L172.29,501.60 Q494.25,486.87 834.41,499.54Z" fill="#8EE2DA" fill-opacity="0.62"/>
<path d="M834.18,504.68 A340.40,340.40 0 0 1 833.88,509.75 Q494.25,486.87 428.53,802.40 L424.02,811.87 L423.82,801.38 Q494.25,486.87 834.18,504.68Z" fill="#8EE2DA" fill-opacity="0.62"/>
<path d="M833.89,509.57 A340.40,340.40 0 0 1 833.53,514.49 Q494.25,486.87 259.20,266.35 L253.42,257.62 L262.42,262.96 Q494.25,486.87 833.89,509.57Z" fill="#8EE2DA" fill-opacity="0.62"/>
<path d="M833.54,514.31 A340.40,340.40 0 0 1 833.13,519.02 Q494.25,486.87 678.29,751.46 L682.21,761.15 L674.59,754.00 Q494.25,486.87 833.54,514.31Z" fill="#8EE2DA" fill-opacity="0.62"/>
<path d="M833.15,518.84 A340.40,340.40 0 0 1 832.69,523.37 Q494.25,486.87 235.77,294.35 L228.92,286.47 L238.37,290.90 Q494.25,486.87 833.15,518.84Z" fill="#8EE2DA" fill-opacity="0.62"/>
<path d="M832.71,523.19 A340.40,340.40 0 0 1 832.22,527.47 Q494.25,486.87 503.21,809.05 L501.38,819.29 L499.12,809.13 Q494.25,486.87 832.71,523.19Z" fill="#8EE2DA" fill-opacity="0.62"/>
<path d="M832.24,527.29 A340.40,340.40 0 0 1 831.72,531.43 Q494.25,486.87 203.98,346.81 L195.68,340.54 L205.72,343.25 Q494.25,486.87 832.24,527.29Z" fill="#8EE2DA" fill-opacity="0.62"/>
<path d="M831.74,531.25 A340.40,340.40 0 0 1 831.18,535.33 Q494.25,486.87 469.31,165.54 L470.53,155.22 L473.21,165.26 Q494.25,486.87 831.74,531.25Z" fill="#8EE2DA" fill-opacity="0.62"/>
<path d="M831.21,535.15 A340.40,340.40 0 0 1 830.62,539.10 Q494.25,486.87 746.86,687.03 L753.64,694.89 L744.49,689.99 Q494.25,486.87 831.21,535.15Z" fill="#8EE2DA" fill-opacity="0.62"/>
<path d="M830.65,538.93 A340.40,340.40 0 0 1 830.04,542.69 Q494.25,486.87 199.54,617.35 L189.47,619.77 L198.10,614.03 Q494.25,486.87 830.65,538.93Z" fill="#8EE2DA" fill-opacity="0.62"/>
<path d="M830.07,542.51 A340.40,340.40 0 0 1 829.46,546.11 Q494.25,486.87 233.82,676.75 L224.53,681.31 L231.79,673.94 Q494.25,486.87 830.07,542.51Z" fill="#8EE2DA" fill-opacity="0.62"/>
<path d="M829.49,545.93 A340.40,340.40 0 0 1 828.84,549.50 Q494.25,486.87 347.58,199.88 L344.52,189.99 L350.66,198.32 Q494.25,486.87 829.49,545.93Z" fill="#8EE2DA" fill-opacity="0.62"/>
<path d="M828.87,549.32 A340.40,340.40 0 0 1 828.19,552.89 Q494.25,486.87 358.46,779.17 L352.55,787.66 L355.34,777.70 Q494.25,486.87 828.87,549.32Z" fill="#8EE2DA" fill-opacity="0.62"/>
<path d="M828.22,552.71 A340.40,340.40 0 0 1 827.50,556.27 Q494.25,486.87 214.98,647.76 L205.26,651.31 L213.27,644.76 Q494.25,486.87 828.22,552.71Z" fill="#8EE2DA" fill-opacity="0.62"/>
<path d="M827.54,556.09 A340.40,340.40 0 0 1 826.80,559.54 Q494.25,486.87 172.35,470.82 L162.25,468.59 L172.53,467.47 Q494.25,486.87 827.54,556.09Z" fill="#8EE2DA" fill-opacity="0.62"/>
<path d="M826.84,559.37 A340.40,340.40 0 0 1 826.10,562.69 Q494.25,486.87 188.43,588.62 L178.23,590.25 L187.43,585.55 Q494.25,486.87 826.84,559.37Z" fill="#8EE2DA" fill-opacity="0.62"/>
<path d="M826.14,562.51 A340.40,340.40 0 0 1 825.43,565.55 Q494.25,486.87 259.65,707.87 L251.18,713.75 L257.63,705.71 Q494.25,486.87 826.14,562.51Z" fill="#8EE2DA" fill-opacity="0.62"/>
<path d="M825.47,565.37 A340.40,340.40 0 0 1 824.76,568.32 Q494.25,486.87 306.79,749.05 L299.66,756.48 L304.46,747.36 Q494.25,486.87 825.47,565.37Z" fill="#8EE2DA" fill-opacity="0.62"/>
<path d="M824.81,568.14 A340.40,340.40 0 0 1 824.07,571.07 Q494.25,486.87 332.26,765.50 L325.86,773.58 L329.79,764.05 Q494.25,486.87 824.81,568.14Z" fill="#8EE2DA" fill-opacity="0.62"/>
<path d="M824.12,570.89 A340.40,340.40 0 0 1 823.38,573.73 Q494.25,486.87 180.01,558.50 L169.75,559.36 L179.40,555.77 Q494.25,486.87 824.12,570.89Z" fill="#8EE2DA" fill-opacity="0.62"/>
<path d="M823.43,573.56 A340.40,340.40 0 0 1 822.70,576.26 Q494.25,486.87 471.78,808.39 L469.70,818.46 L469.13,808.19 Q494.25,486.87 823.43,573.56Z" fill="#8EE2DA" fill-opacity="0.62"/>
<path d="M822.75,576.08 A340.40,340.40 0 0 1 822.05,578.63 Q494.25,486.87 394.79,793.44 L390.41,802.74 L392.40,792.65 Q494.25,486.87 822.75,576.08Z" fill="#8EE2DA" fill-opacity="0.62"/>
<path d="M822.10,578.46 A340.40,340.40 0 0 1 821.38,580.98 Q494.25,486.87 283.53,730.75 L275.89,737.62 L281.66,729.11 Q494.25,486.87 822.10,578.46Z" fill="#8EE2DA" fill-opacity="0.62"/>
<path d="M821.43,580.80 A340.40,340.40 0 0 1 820.71,583.30 Q494.25,486.87 377.38,186.51 L374.87,176.54 L379.68,185.62 Q494.25,486.87 821.43,580.80Z" fill="#8EE2DA" fill-opacity="0.62"/>
<path d="M820.76,583.13 A340.40,340.40 0 0 1 820.06,585.46 Q494.25,486.87 628.15,780.04 L631.30,789.81 L626.04,781.00 Q494.25,486.87 820.76,583.13Z" fill="#8EE2DA" fill-opacity="0.62"/>
<path d="M820.11,585.29 A340.40,340.40 0 0 1 819.42,587.55 Q494.25,486.87 415.88,174.24 L414.53,164.07 L418.07,173.70 Q494.25,486.87 820.11,585.29Z" fill="#8EE2DA" fill-opacity="0.62"/>
<path d="M819.47,587.38 A340.40,340.40 0 0 1 818.81,589.51 Q494.25,486.87 321.35,214.87 L316.80,205.68 L323.14,213.74 Q494.25,486.87 819.47,587.38Z" fill="#8EE2DA" fill-opacity="0.62"/>
<path d="M818.86,589.34 A340.40,340.40 0 0 1 818.22,591.36 Q494.25,486.87 725.95,710.91 L732.56,718.74 L724.55,712.35 Q494.25,486.87 818.86,589.34Z" fill="#8EE2DA" fill-opacity="0.62"/>
<path d="M818.27,591.19 A340.40,340.40 0 0 1 817.64,593.14 Q494.25,486.87 580.03,797.55 L581.77,807.64 L578.15,798.06 Q494.25,486.87 818.27,591.19Z" fill="#8EE2DA" fill-opacity="0.62"/>
<path d="M817.69,592.97 A340.40,340.40 0 0 1 817.06,594.89 Q494.25,486.87 190.91,377.95 L181.65,373.57 L191.57,376.14 Q494.25,486.87 817.69,592.97Z" fill="#8EE2DA" fill-opacity="0.62"/>
<path d="M817.11,594.72 A340.40,340.40 0 0 1 816.48,596.60 Q494.25,486.87 218.15,320.61 L209.91,314.51 L219.12,318.99 Q494.25,486.87 817.11,594.72Z" fill="#8EE2DA" fill-opacity="0.62"/>
<path d="M816.54,596.43 A340.40,340.40 0 0 1 815.90,598.30 Q494.25,486.87 652.41,767.69 L656.57,777.05 L650.77,768.61 Q494.25,486.87 816.54,596.43Z" fill="#8EE2DA" fill-opacity="0.62"/>
<path d="M815.96,598.13 A340.40,340.40 0 0 1 815.36,599.83 Q494.25,486.87 174.90,443.37 L164.91,441.11 L175.14,441.66 Q494.25,486.87 815.96,598.13Z" fill="#8EE2DA" fill-opacity="0.62"/>
<path d="M815.42,599.66 A340.40,340.40 0 0 1 814.93,601.03 Q494.25,486.87 706.61,729.32 L712.79,737.46 L705.56,730.23 Q494.25,486.87 815.42,599.66Z" fill="#8EE2DA" fill-opacity="0.62"/>
<path d="M815.00,600.86 A340.40,340.40 0 0 1 814.52,602.19 Q494.25,486.87 604.56,789.71 L607.40,799.53 L603.29,790.16 Q494.25,486.87 815.00,600.86Z" fill="#8EE2DA" fill-opacity="0.62"/>
<path d="M814.58,602.02 A340.40,340.40 0 0 1 814.45,602.39 Q494.25,486.87 439.15,169.32 L437.60,159.23 L439.52,169.25 Q494.25,486.87 814.58,602.02Z" fill="#8EE2DA" fill-opacity="0.62"/>
<path d="M806.63,622.12 A340.40,340.40 0 0 1 806.31,622.86 Q494.25,486.87 537.81,806.21 L538.79,816.37 L537.05,806.32 Q494.25,486.87 806.63,622.12Z" fill="#96E4DC" fill-opacity="0.55"/>
<path d="M806.38,622.69 A340.40,340.40 0 0 1 806.09,623.36 Q494.25,486.87 299.14,230.33 L293.25,222.00 L299.70,229.91 Q494.25,486.87 806.38,622.69Z" fill="#96E4DC" fill-opacity="0.55"/>
<path d="M806.16,623.19 A340.40,340.40 0 0 1 805.90,623.79 Q494.25,486.87 183.30,402.11 L173.54,399.11 L183.46,401.50 Q494.25,486.87 806.16,623.19Z" fill="#96E4DC" fill-opacity="0.55"/>
<path d="M805.97,623.63 A340.40,340.40 0 0 1 805.73,624.17 Q494.25,486.87 172.23,500.37 L162.03,500.50 L172.21,499.80 Q494.25,486.87 805.97,623.63Z" fill="#96E4DC" fill-opacity="0.55"/>
<path d="M805.81,624.00 A340.40,340.40 0 0 1 805.58,624.52 Q494.25,486.87 422.68,801.12 L420.14,811.00 L422.14,801.00 Q494.25,486.87 805.81,624.00Z" fill="#96E4DC" fill-opacity="0.55"/>
<path d="M805.65,624.36 A340.40,340.40 0 0 1 805.42,624.87 Q494.25,486.87 263.21,262.15 L256.09,254.84 L263.59,261.77 Q494.25,486.87 805.65,624.36Z" fill="#96E4DC" fill-opacity="0.55"/>
<path d="M805.50,624.71 A340.40,340.40 0 0 1 805.27,625.20 Q494.25,486.87 673.69,754.60 L679.15,763.22 L673.26,754.89 Q494.25,486.87 805.50,624.71Z" fill="#96E4DC" fill-opacity="0.55"/>
<path d="M805.35,625.04 A340.40,340.40 0 0 1 805.13,625.52 Q494.25,486.87 239.00,290.09 L231.08,283.65 L239.31,289.69 Q494.25,486.87 805.35,625.04Z" fill="#96E4DC" fill-opacity="0.55"/>
<path d="M805.21,625.36 A340.40,340.40 0 0 1 805.00,625.82 Q494.25,486.87 499.30,809.13 L499.21,819.33 L498.81,809.14 Q494.25,486.87 805.21,625.36Z" fill="#96E4DC" fill-opacity="0.55"/>
<path d="M805.07,625.66 A340.40,340.40 0 0 1 804.87,626.11 Q494.25,486.87 206.13,342.42 L197.12,337.63 L206.35,341.99 Q494.25,486.87 805.07,625.66Z" fill="#96E4DC" fill-opacity="0.55"/>
<path d="M804.94,625.95 A340.40,340.40 0 0 1 804.74,626.40 Q494.25,486.87 473.03,165.27 L472.60,155.08 L473.51,165.24 Q494.25,486.87 804.94,625.95Z" fill="#96E4DC" fill-opacity="0.55"/>
<path d="M804.81,626.23 A340.40,340.40 0 0 1 804.62,626.68 Q494.25,486.87 743.94,690.66 L751.69,697.30 L743.64,691.03 Q494.25,486.87 804.81,626.23Z" fill="#96E4DC" fill-opacity="0.55"/>
<path d="M804.69,626.51 A340.40,340.40 0 0 1 804.50,626.94 Q494.25,486.87 198.17,614.20 L188.71,618.01 L197.99,613.78 Q494.25,486.87 804.69,626.51Z" fill="#96E4DC" fill-opacity="0.55"/>
<path d="M804.57,626.77 A340.40,340.40 0 0 1 804.38,627.19 Q494.25,486.87 231.34,673.30 L222.89,679.02 L231.09,672.94 Q494.25,486.87 804.57,626.77Z" fill="#96E4DC" fill-opacity="0.55"/>
<path d="M804.46,627.03 A340.40,340.40 0 0 1 804.27,627.44 Q494.25,486.87 351.35,197.98 L347.03,188.74 L351.75,197.78 Q494.25,486.87 804.46,627.03Z" fill="#96E4DC" fill-opacity="0.55"/>
<path d="M804.34,627.28 A340.40,340.40 0 0 1 804.16,627.69 Q494.25,486.87 354.64,777.36 L350.02,786.46 L354.24,777.17 Q494.25,486.87 804.34,627.28Z" fill="#96E4DC" fill-opacity="0.55"/>
<path d="M804.23,627.53 A340.40,340.40 0 0 1 804.04,627.94 Q494.25,486.87 213.36,644.92 L204.36,649.72 L213.15,644.54 Q494.25,486.87 804.23,627.53Z" fill="#96E4DC" fill-opacity="0.55"/>
<path d="M804.12,627.78 A340.40,340.40 0 0 1 803.93,628.19 Q494.25,486.87 172.52,467.65 L162.35,466.82 L172.55,467.22 Q494.25,486.87 804.12,627.78Z" fill="#96E4DC" fill-opacity="0.55"/>
<path d="M804.01,628.02 A340.40,340.40 0 0 1 803.82,628.42 Q494.25,486.87 187.21,584.87 L177.43,587.76 L187.08,584.47 Q494.25,486.87 804.01,628.02Z" fill="#96E4DC" fill-opacity="0.55"/>
<path d="M803.90,628.26 A340.40,340.40 0 0 1 803.73,628.63 Q494.25,486.87 257.20,705.24 L249.56,712.00 L256.93,704.95 Q494.25,486.87 803.90,628.26Z" fill="#96E4DC" fill-opacity="0.55"/>
<path d="M803.80,628.47 A340.40,340.40 0 0 1 803.63,628.84 Q494.25,486.87 303.97,747.00 L297.78,755.12 L303.65,746.77 Q494.25,486.87 803.80,628.47Z" fill="#96E4DC" fill-opacity="0.55"/>
<path d="M803.71,628.68 A340.40,340.40 0 0 1 803.54,629.04 Q494.25,486.87 329.95,764.15 L324.57,772.82 L329.61,763.95 Q494.25,486.87 803.71,628.68Z" fill="#96E4DC" fill-opacity="0.55"/>
<path d="M803.61,628.88 A340.40,340.40 0 0 1 803.45,629.24 Q494.25,486.87 179.28,555.21 L169.27,557.17 L179.20,554.83 Q494.25,486.87 803.61,628.88Z" fill="#96E4DC" fill-opacity="0.55"/>
<path d="M803.52,629.08 A340.40,340.40 0 0 1 803.36,629.43 Q494.25,486.87 469.31,808.20 L468.33,818.36 L468.94,808.17 Q494.25,486.87 803.52,629.08Z" fill="#96E4DC" fill-opacity="0.55"/>
<path d="M803.43,629.27 A340.40,340.40 0 0 1 803.28,629.61 Q494.25,486.87 392.57,792.71 L389.18,802.33 L392.23,792.60 Q494.25,486.87 803.43,629.27Z" fill="#96E4DC" fill-opacity="0.55"/>
<path d="M803.35,629.45 A340.40,340.40 0 0 1 803.19,629.79 Q494.25,486.87 281.79,729.23 L274.93,736.78 L281.52,728.99 Q494.25,486.87 803.35,629.45Z" fill="#96E4DC" fill-opacity="0.55"/>
<path d="M803.27,629.62 A340.40,340.40 0 0 1 803.11,629.96 Q494.25,486.87 380.14,185.45 L376.71,175.84 L380.48,185.32 Q494.25,486.87 803.27,629.62Z" fill="#96E4DC" fill-opacity="0.55"/>
<path d="M803.19,629.80 A340.40,340.40 0 0 1 803.04,630.13 Q494.25,486.87 626.20,780.92 L630.21,790.30 L625.88,781.06 Q494.25,486.87 803.19,629.80Z" fill="#96E4DC" fill-opacity="0.55"/>
<path d="M803.11,629.96 A340.40,340.40 0 0 1 802.96,630.28 Q494.25,486.87 418.48,173.60 L416.26,163.65 L418.82,173.52 Q494.25,486.87 803.11,629.96Z" fill="#96E4DC" fill-opacity="0.55"/>
<path d="M803.04,630.12 A340.40,340.40 0 0 1 802.89,630.43 Q494.25,486.87 323.47,213.53 L318.21,204.79 L323.76,213.36 Q494.25,486.87 803.04,630.12Z" fill="#96E4DC" fill-opacity="0.55"/>
<path d="M802.97,630.27 A340.40,340.40 0 0 1 802.83,630.57 Q494.25,486.87 724.67,712.22 L731.85,719.47 L724.44,712.45 Q494.25,486.87 802.97,630.27Z" fill="#96E4DC" fill-opacity="0.55"/>
<path d="M802.91,630.41 A340.40,340.40 0 0 1 802.77,630.71 Q494.25,486.87 578.32,798.01 L580.82,807.90 L578.01,798.10 Q494.25,486.87 802.91,630.41Z" fill="#96E4DC" fill-opacity="0.55"/>
<path d="M802.84,630.55 A340.40,340.40 0 0 1 802.70,630.84 Q494.25,486.87 191.51,376.31 L181.98,372.65 L191.62,376.01 Q494.25,486.87 802.84,630.55Z" fill="#96E4DC" fill-opacity="0.55"/>
<path d="M802.78,630.68 A340.40,340.40 0 0 1 802.64,630.97 Q494.25,486.87 219.03,319.14 L210.41,313.70 L219.20,318.87 Q494.25,486.87 802.78,630.68Z" fill="#96E4DC" fill-opacity="0.55"/>
<path d="M802.72,630.81 A340.40,340.40 0 0 1 802.58,631.10 Q494.25,486.87 650.93,768.52 L655.75,777.52 L650.65,768.68 Q494.25,486.87 802.72,630.81Z" fill="#96E4DC" fill-opacity="0.55"/>
<path d="M802.66,630.94 A340.40,340.40 0 0 1 802.53,631.22 Q494.25,486.87 175.11,441.84 L165.03,440.26 L175.15,441.54 Q494.25,486.87 802.66,630.94Z" fill="#96E4DC" fill-opacity="0.55"/>
<path d="M802.60,631.06 A340.40,340.40 0 0 1 802.48,631.31 Q494.25,486.87 705.70,730.11 L712.28,737.90 L705.49,730.29 Q494.25,486.87 802.60,631.06Z" fill="#96E4DC" fill-opacity="0.55"/>
<path d="M802.56,631.15 A340.40,340.40 0 0 1 802.44,631.40 Q494.25,486.87 603.46,790.10 L606.78,799.75 L603.20,790.20 Q494.25,486.87 802.56,631.15Z" fill="#96E4DC" fill-opacity="0.55"/>
<path d="M802.52,631.24 A340.40,340.40 0 0 1 802.44,631.42 Q494.25,486.87 439.35,169.28 L437.71,159.21 L439.54,169.25 Q494.25,486.87 802.52,631.24Z" fill="#96E4DC" fill-opacity="0.55"/>
<path d="M792.79,650.42 A340.40,340.40 0 0 1 792.78,650.43 Q494.25,486.87 536.43,806.40 L537.76,816.51 L536.43,806.40 Q494.25,486.87 792.79,650.42Z" fill="#96E4DC" fill-opacity="0.35"/>
<path d="M792.78,650.43 A340.40,340.40 0 0 1 792.78,650.43 Q494.25,486.87 300.12,229.60 L293.98,221.45 L300.12,229.59 Q494.25,486.87 792.78,650.43Z" fill="#96E4DC" fill-opacity="0.35"/>
<path d="M792.78,650.43 A340.40,340.40 0 0 1 792.78,650.44 Q494.25,486.87 183.58,401.07 L173.75,398.35 L183.58,401.06 Q494.25,486.87 792.78,650.43Z" fill="#96E4DC" fill-opacity="0.35"/>
<path d="M792.78,650.44 A340.40,340.40 0 0 1 792.77,650.44 Q494.25,486.87 172.19,499.42 L162.00,499.82 L172.19,499.42 Q494.25,486.87 792.78,650.44Z" fill="#96E4DC" fill-opacity="0.35"/>
<path d="M792.77,650.44 A340.40,340.40 0 0 1 792.77,650.45 Q494.25,486.87 421.79,800.92 L419.50,810.86 L421.79,800.92 Q494.25,486.87 792.77,650.44Z" fill="#96E4DC" fill-opacity="0.35"/>
<path d="M792.77,650.45 A340.40,340.40 0 0 1 792.77,650.45 Q494.25,486.87 263.83,261.52 L256.54,254.39 L263.83,261.52 Q494.25,486.87 792.77,650.45Z" fill="#96E4DC" fill-opacity="0.35"/>
<path d="M792.77,650.45 A340.40,340.40 0 0 1 792.77,650.45 Q494.25,486.87 672.99,755.07 L678.64,763.56 L672.99,755.07 Q494.25,486.87 792.77,650.45Z" fill="#96E4DC" fill-opacity="0.35"/>
<path d="M792.77,650.45 A340.40,340.40 0 0 1 792.76,650.46 Q494.25,486.87 239.50,289.44 L231.43,283.19 L239.50,289.44 Q494.25,486.87 792.77,650.45Z" fill="#96E4DC" fill-opacity="0.35"/>
<path d="M792.76,650.46 A340.40,340.40 0 0 1 792.76,650.46 Q494.25,486.87 498.52,809.14 L498.66,819.34 L498.52,809.14 Q494.25,486.87 792.76,650.46Z" fill="#96E4DC" fill-opacity="0.35"/>
<path d="M792.76,650.46 A340.40,340.40 0 0 1 792.76,650.46 Q494.25,486.87 206.47,341.75 L197.36,337.16 L206.47,341.75 Q494.25,486.87 792.76,650.46Z" fill="#96E4DC" fill-opacity="0.35"/>
<path d="M792.76,650.46 A340.40,340.40 0 0 1 792.76,650.47 Q494.25,486.87 473.77,165.22 L473.13,155.04 L473.78,165.22 Q494.25,486.87 792.76,650.46Z" fill="#96E4DC" fill-opacity="0.35"/>
<path d="M792.76,650.47 A340.40,340.40 0 0 1 792.76,650.47 Q494.25,486.87 743.48,691.23 L751.37,697.69 L743.48,691.23 Q494.25,486.87 792.76,650.47Z" fill="#96E4DC" fill-opacity="0.35"/>
<path d="M792.76,650.47 A340.40,340.40 0 0 1 792.76,650.47 Q494.25,486.87 197.89,613.56 L188.51,617.57 L197.89,613.56 Q494.25,486.87 792.76,650.47Z" fill="#96E4DC" fill-opacity="0.35"/>
<path d="M792.76,650.47 A340.40,340.40 0 0 1 792.75,650.48 Q494.25,486.87 230.96,672.76 L222.62,678.64 L230.96,672.75 Q494.25,486.87 792.76,650.47Z" fill="#96E4DC" fill-opacity="0.35"/>
<path d="M792.75,650.48 A340.40,340.40 0 0 1 792.75,650.48 Q494.25,486.87 351.95,197.69 L347.45,188.53 L351.95,197.68 Q494.25,486.87 792.75,650.48Z" fill="#96E4DC" fill-opacity="0.35"/>
<path d="M792.75,650.48 A340.40,340.40 0 0 1 792.75,650.48 Q494.25,486.87 354.04,777.08 L349.60,786.26 L354.04,777.07 Q494.25,486.87 792.75,650.48Z" fill="#96E4DC" fill-opacity="0.35"/>
<path d="M792.75,650.48 A340.40,340.40 0 0 1 792.75,650.49 Q494.25,486.87 213.04,644.34 L204.14,649.32 L213.04,644.34 Q494.25,486.87 792.75,650.48Z" fill="#96E4DC" fill-opacity="0.35"/>
<path d="M792.75,650.49 A340.40,340.40 0 0 1 792.75,650.49 Q494.25,486.87 172.56,467.01 L162.38,466.38 L172.56,467.00 Q494.25,486.87 792.75,650.49Z" fill="#96E4DC" fill-opacity="0.35"/>
<path d="M792.75,650.49 A340.40,340.40 0 0 1 792.75,650.49 Q494.25,486.87 187.02,584.27 L177.30,587.35 L187.02,584.27 Q494.25,486.87 792.75,650.49Z" fill="#96E4DC" fill-opacity="0.35"/>
<path d="M792.75,650.49 A340.40,340.40 0 0 1 792.74,650.49 Q494.25,486.87 256.81,704.82 L249.30,711.71 L256.81,704.82 Q494.25,486.87 792.75,650.49Z" fill="#96E4DC" fill-opacity="0.35"/>
<path d="M792.74,650.49 A340.40,340.40 0 0 1 792.74,650.50 Q494.25,486.87 303.51,746.67 L297.48,754.89 L303.51,746.67 Q494.25,486.87 792.74,650.49Z" fill="#96E4DC" fill-opacity="0.35"/>
<path d="M792.74,650.50 A340.40,340.40 0 0 1 792.74,650.50 Q494.25,486.87 329.47,763.86 L324.25,772.62 L329.46,763.86 Q494.25,486.87 792.74,650.50Z" fill="#96E4DC" fill-opacity="0.35"/>
<path d="M792.74,650.50 A340.40,340.40 0 0 1 792.74,650.50 Q494.25,486.87 179.16,554.67 L169.19,556.81 L179.16,554.67 Q494.25,486.87 792.74,650.50Z" fill="#96E4DC" fill-opacity="0.35"/>
<path d="M792.74,650.50 A340.40,340.40 0 0 1 792.74,650.50 Q494.25,486.87 468.79,808.16 L467.98,818.33 L468.79,808.16 Q494.25,486.87 792.74,650.50Z" fill="#96E4DC" fill-opacity="0.35"/>
<path d="M792.74,650.50 A340.40,340.40 0 0 1 792.74,650.51 Q494.25,486.87 392.10,792.55 L388.86,802.23 L392.10,792.55 Q494.25,486.87 792.74,650.50Z" fill="#96E4DC" fill-opacity="0.35"/>
<path d="M792.74,650.51 A340.40,340.40 0 0 1 792.74,650.51 Q494.25,486.87 281.42,728.90 L274.68,736.56 L281.42,728.90 Q494.25,486.87 792.74,650.51Z" fill="#96E4DC" fill-opacity="0.35"/>
<path d="M792.74,650.51 A340.40,340.40 0 0 1 792.74,650.51 Q494.25,486.87 380.60,185.27 L377.01,175.73 L380.60,185.27 Q494.25,486.87 792.74,650.51Z" fill="#96E4DC" fill-opacity="0.35"/>
<path d="M792.74,650.51 A340.40,340.40 0 0 1 792.74,650.51 Q494.25,486.87 625.78,781.11 L629.94,790.42 L625.77,781.11 Q494.25,486.87 792.74,650.51Z" fill="#96E4DC" fill-opacity="0.35"/>
<path d="M792.74,650.51 A340.40,340.40 0 0 1 792.73,650.51 Q494.25,486.87 418.92,173.50 L416.54,163.58 L418.92,173.50 Q494.25,486.87 792.74,650.51Z" fill="#96E4DC" fill-opacity="0.35"/>
<path d="M792.73,650.51 A340.40,340.40 0 0 1 792.73,650.52 Q494.25,486.87 323.84,213.31 L318.45,204.65 L323.84,213.31 Q494.25,486.87 792.73,650.51Z" fill="#96E4DC" fill-opacity="0.35"/>
<path d="M792.73,650.52 A340.40,340.40 0 0 1 792.73,650.52 Q494.25,486.87 724.38,712.52 L731.67,719.66 L724.38,712.52 Q494.25,486.87 792.73,650.52Z" fill="#96E4DC" fill-opacity="0.35"/>
<path d="M792.73,650.52 A340.40,340.40 0 0 1 792.73,650.52 Q494.25,486.87 577.94,798.12 L580.58,807.97 L577.93,798.12 Q494.25,486.87 792.73,650.52Z" fill="#96E4DC" fill-opacity="0.35"/>
<path d="M792.73,650.52 A340.40,340.40 0 0 1 792.73,650.52 Q494.25,486.87 191.64,375.93 L182.07,372.42 L191.64,375.93 Q494.25,486.87 792.73,650.52Z" fill="#96E4DC" fill-opacity="0.35"/>
<path d="M792.73,650.52 A340.40,340.40 0 0 1 792.73,650.52 Q494.25,486.87 219.23,318.81 L210.53,313.49 L219.24,318.81 Q494.25,486.87 792.73,650.52Z" fill="#96E4DC" fill-opacity="0.35"/>
<path d="M792.73,650.52 A340.40,340.40 0 0 1 792.73,650.52 Q494.25,486.87 650.59,768.71 L655.54,777.63 L650.59,768.71 Q494.25,486.87 792.73,650.52Z" fill="#96E4DC" fill-opacity="0.35"/>
<path d="M792.73,650.52 A340.40,340.40 0 0 1 792.73,650.53 Q494.25,486.87 175.16,441.49 L165.06,440.05 L175.16,441.48 Q494.25,486.87 792.73,650.52Z" fill="#96E4DC" fill-opacity="0.35"/>
<path d="M792.73,650.53 A340.40,340.40 0 0 1 792.73,650.53 Q494.25,486.87 705.47,730.31 L712.15,738.02 L705.47,730.31 Q494.25,486.87 792.73,650.53Z" fill="#96E4DC" fill-opacity="0.35"/>
<path d="M792.73,650.53 A340.40,340.40 0 0 1 792.73,650.53 Q494.25,486.87 603.18,790.20 L606.63,799.80 L603.18,790.20 Q494.25,486.87 792.73,650.53Z" fill="#96E4DC" fill-opacity="0.35"/>
<path d="M792.73,650.53 A340.40,340.40 0 0 1 792.73,650.53 Q494.25,486.87 439.47,169.26 L437.74,159.21 L439.47,169.26 Q494.25,486.87 792.73,650.53Z" fill="#96E4DC" fill-opacity="0.35"/>
<path d="M781.85,668.96 A340.40,340.40 0 0 1 781.85,668.97 Q494.25,486.87 536.43,806.40 L537.76,816.51 L536.42,806.40 Q494.25,486.87 781.85,668.96Z" fill="#96E4DC" fill-opacity="0.35"/>
<path d="M781.85,668.97 A340.40,340.40 0 0 1 781.84,668.97 Q494.25,486.87 300.12,229.59 L293.98,221.45 L300.13,229.59 Q494.25,486.87 781.85,668.97Z" fill="#96E4DC" fill-opacity="0.35"/>
<path d="M781.84,668.97 A340.40,340.40 0 0 1 781.84,668.98 Q494.25,486.87 183.58,401.06 L173.75,398.34 L183.58,401.06 Q494.25,486.87 781.84,668.97Z" fill="#96E4DC" fill-opacity="0.35"/>
<path d="M781.84,668.98 A340.40,340.40 0 0 1 781.84,668.98 Q494.25,486.87 172.19,499.42 L162.00,499.81 L172.19,499.41 Q494.25,486.87 781.84,668.98Z" fill="#96E4DC" fill-opacity="0.35"/>
<path d="M781.84,668.98 A340.40,340.40 0 0 1 781.84,668.99 Q494.25,486.87 421.79,800.92 L419.49,810.86 L421.79,800.92 Q494.25,486.87 781.84,668.98Z" fill="#96E4DC" fill-opacity="0.35"/>
<path d="M781.84,668.99 A340.40,340.40 0 0 1 781.83,668.99 Q494.25,486.87 263.83,261.52 L256.54,254.38 L263.83,261.52 Q494.25,486.87 781.84,668.99Z" fill="#96E4DC" fill-opacity="0.35"/>
<path d="M781.83,668.99 A340.40,340.40 0 0 1 781.83,668.99 Q494.25,486.87 672.99,755.07 L678.64,763.56 L672.98,755.07 Q494.25,486.87 781.83,668.99Z" fill="#96E4DC" fill-opacity="0.35"/>
<path d="M781.83,668.99 A340.40,340.40 0 0 1 781.83,669.00 Q494.25,486.87 239.50,289.44 L231.44,283.19 L239.50,289.44 Q494.25,486.87 781.83,668.99Z" fill="#96E4DC" fill-opacity="0.35"/>
<path d="M781.83,669.00 A340.40,340.40 0 0 1 781.83,669.00 Q494.25,486.87 498.52,809.14 L498.65,819.34 L498.51,809.14 Q494.25,486.87 781.83,669.00Z" fill="#96E4DC" fill-opacity="0.35"/>
<path d="M781.83,669.00 A340.40,340.40 0 0 1 781.83,669.00 Q494.25,486.87 206.47,341.75 L197.36,337.15 L206.47,341.74 Q494.25,486.87 781.83,669.00Z" fill="#96E4DC" fill-opacity="0.35"/>
<path d="M781.83,669.00 A340.40,340.40 0 0 1 781.82,669.00 Q494.25,486.87 473.78,165.22 L473.13,155.04 L473.78,165.22 Q494.25,486.87 781.83,669.00Z" fill="#96E4DC" fill-opacity="0.35"/>
<path d="M781.82,669.00 A340.40,340.40 0 0 1 781.82,669.01 Q494.25,486.87 743.48,691.23 L751.37,697.70 L743.48,691.23 Q494.25,486.87 781.82,669.00Z" fill="#96E4DC" fill-opacity="0.35"/>
<path d="M781.82,669.01 A340.40,340.40 0 0 1 781.82,669.01 Q494.25,486.87 197.89,613.56 L188.51,617.57 L197.89,613.56 Q494.25,486.87 781.82,669.01Z" fill="#96E4DC" fill-opacity="0.35"/>
<path d="M781.82,669.01 A340.40,340.40 0 0 1 781.82,669.01 Q494.25,486.87 230.96,672.75 L222.62,678.64 L230.95,672.75 Q494.25,486.87 781.82,669.01Z" fill="#96E4DC" fill-opacity="0.35"/>
<path d="M781.82,669.01 A340.40,340.40 0 0 1 781.82,669.02 Q494.25,486.87 351.95,197.68 L347.45,188.53 L351.95,197.68 Q494.25,486.87 781.82,669.01Z" fill="#96E4DC" fill-opacity="0.35"/>
<path d="M781.82,669.02 A340.40,340.40 0 0 1 781.82,669.02 Q494.25,486.87 354.04,777.07 L349.60,786.26 L354.04,777.07 Q494.25,486.87 781.82,669.02Z" fill="#96E4DC" fill-opacity="0.35"/>
<path d="M781.82,669.02 A340.40,340.40 0 0 1 781.81,669.02 Q494.25,486.87 213.04,644.34 L204.14,649.32 L213.04,644.34 Q494.25,486.87 781.82,669.02Z" fill="#96E4DC" fill-opacity="0.35"/>
<path d="M781.81,669.02 A340.40,340.40 0 0 1 781.81,669.02 Q494.25,486.87 172.56,467.00 L162.38,466.37 L172.56,467.00 Q494.25,486.87 781.81,669.02Z" fill="#96E4DC" fill-opacity="0.35"/>
<path d="M781.81,669.02 A340.40,340.40 0 0 1 781.81,669.03 Q494.25,486.87 187.02,584.27 L177.30,587.35 L187.02,584.27 Q494.25,486.87 781.81,669.02Z" fill="#96E4DC" fill-opacity="0.35"/>
<path d="M781.81,669.03 A340.40,340.40 0 0 1 781.81,669.03 Q494.25,486.87 256.81,704.82 L249.30,711.71 L256.81,704.81 Q494.25,486.87 781.81,669.03Z" fill="#96E4DC" fill-opacity="0.35"/>
<path d="M781.81,669.03 A340.40,340.40 0 0 1 781.81,669.03 Q494.25,486.87 303.51,746.67 L297.47,754.89 L303.51,746.67 Q494.25,486.87 781.81,669.03Z" fill="#96E4DC" fill-opacity="0.35"/>
<path d="M781.81,669.03 A340.40,340.40 0 0 1 781.81,669.03 Q494.25,486.87 329.46,763.86 L324.25,772.62 L329.46,763.86 Q494.25,486.87 781.81,669.03Z" fill="#96E4DC" fill-opacity="0.35"/>
<path d="M781.81,669.03 A340.40,340.40 0 0 1 781.81,669.03 Q494.25,486.87 179.16,554.67 L169.19,556.81 L179.16,554.66 Q494.25,486.87 781.81,669.03Z" fill="#96E4DC" fill-opacity="0.35"/>
<path d="M781.81,669.03 A340.40,340.40 0 0 1 781.80,669.04 Q494.25,486.87 468.79,808.16 L467.98,818.33 L468.79,808.16 Q494.25,486.87 781.81,669.03Z" fill="#96E4DC" fill-opacity="0.35"/>
<path d="M781.80,669.04 A340.40,340.40 0 0 1 781.80,669.04 Q494.25,486.87 392.10,792.55 L388.86,802.23 L392.09,792.55 Q494.25,486.87 781.80,669.04Z" fill="#96E4DC" fill-opacity="0.35"/>
<path d="M781.80,669.04 A340.40,340.40 0 0 1 781.80,669.04 Q494.25,486.87 281.42,728.90 L274.68,736.56 L281.42,728.90 Q494.25,486.87 781.80,669.04Z" fill="#96E4DC" fill-opacity="0.35"/>
<path d="M781.80,669.04 A340.40,340.40 0 0 1 781.80,669.04 Q494.25,486.87 380.60,185.27 L377.01,175.73 L380.61,185.27 Q494.25,486.87 781.80,669.04Z" fill="#96E4DC" fill-opacity="0.35"/>
<path d="M781.80,669.04 A340.40,340.40 0 0 1 781.80,669.04 Q494.25,486.87 625.77,781.11 L629.94,790.42 L625.77,781.11 Q494.25,486.87 781.80,669.04Z" fill="#96E4DC" fill-opacity="0.35"/>
<path d="M781.80,669.04 A340.40,340.40 0 0 1 781.80,669.04 Q494.25,486.87 418.92,173.50 L416.54,163.58 L418.93,173.50 Q494.25,486.87 781.80,669.04Z" fill="#96E4DC" fill-opacity="0.35"/>
<path d="M781.80,669.04 A340.40,340.40 0 0 1 781.80,669.05 Q494.25,486.87 323.84,213.31 L318.45,204.65 L323.84,213.30 Q494.25,486.87 781.80,669.04Z" fill="#96E4DC" fill-opacity="0.35"/>
<path d="M781.80,669.05 A340.40,340.40 0 0 1 781.80,669.05 Q494.25,486.87 724.38,712.52 L731.66,719.66 L724.38,712.52 Q494.25,486.87 781.80,669.05Z" fill="#96E4DC" fill-opacity="0.35"/>
<path d="M781.80,669.05 A340.40,340.40 0 0 1 781.80,669.05 Q494.25,486.87 577.93,798.12 L580.58,807.97 L577.93,798.12 Q494.25,486.87 781.80,669.05Z" fill="#96E4DC" fill-opacity="0.35"/>
<path d="M781.80,669.05 A340.40,340.40 0 0 1 781.80,669.05 Q494.25,486.87 191.64,375.93 L182.07,372.42 L191.65,375.93 Q494.25,486.87 781.80,669.05Z" fill="#96E4DC" fill-opacity="0.35"/>
<path d="M781.80,669.05 A340.40,340.40 0 0 1 781.79,669.05 Q494.25,486.87 219.24,318.81 L210.53,313.49 L219.24,318.81 Q494.25,486.87 781.80,669.05Z" fill="#96E4DC" fill-opacity="0.35"/>
<path d="M781.79,669.05 A340.40,340.40 0 0 1 781.79,669.05 Q494.25,486.87 650.59,768.71 L655.54,777.63 L650.59,768.71 Q494.25,486.87 781.79,669.05Z" fill="#96E4DC" fill-opacity="0.35"/>
<path d="M781.79,669.05 A340.40,340.40 0 0 1 781.79,669.05 Q494.25,486.87 175.16,441.48 L165.06,440.05 L175.16,441.48 Q494.25,486.87 781.79,669.05Z" fill="#96E4DC" fill-opacity="0.35"/>
<path d="M781.79,669.05 A340.40,340.40 0 0 1 781.79,669.05 Q494.25,486.87 705.47,730.31 L712.15,738.02 L705.47,730.31 Q494.25,486.87 781.79,669.05Z" fill="#96E4DC" fill-opacity="0.35"/>
<path d="M781.79,669.05 A340.40,340.40 0 0 1 781.79,669.06 Q494.25,486.87 603.18,790.20 L606.63,799.80 L603.18,790.20 Q494.25,486.87 781.79,669.05Z" fill="#96E4DC" fill-opacity="0.35"/>
<path d="M781.79,669.06 A340.40,340.40 0 0 1 781.79,669.06 Q494.25,486.87 439.47,169.26 L437.74,159.21 L439.47,169.26 Q494.25,486.87 781.79,669.06Z" fill="#96E4DC" fill-opacity="0.35"/>
<path d="M494.62,128.91 A357.96,357.96 0 0 1 817.79,333.72 L801.38,341.49 A339.80,339.80 0 0 0 494.61,147.07 Z" fill="#40C4D8"/>
<path d="M826.78,354.36 A357.96,357.96 0 0 1 826.80,354.40 L809.93,361.12 A339.80,339.80 0 0 0 809.91,361.08 Z" fill="#40C4D8"/>
<path d="M834.46,375.56 A357.96,357.96 0 0 1 841.35,399.38 L823.74,403.82 A339.80,339.80 0 0 0 817.20,381.21 Z" fill="#4BC2D6"/>
<path d="M846.17,421.37 A357.96,357.96 0 0 1 846.85,425.18 L828.97,428.31 A339.80,339.80 0 0 0 828.31,424.69 Z" fill="#8CD3E3"/>
<path d="M850.03,447.47 A357.96,357.96 0 0 1 850.90,456.23 L832.80,457.78 A339.80,339.80 0 0 0 831.98,449.47 Z" fill="#A8DAEC"/>
<path d="M852.12,478.70 A357.96,357.96 0 0 1 831.00,608.26 L813.91,602.11 A339.80,339.80 0 0 0 833.96,479.12 Z" fill="#A0E8E0"/>
<path d="M822.70,629.19 A357.96,357.96 0 0 1 818.37,638.79 L801.93,631.08 A339.80,339.80 0 0 0 806.04,621.97 Z" fill="#A6E8E0"/>
<path d="M808.19,658.86 A357.96,357.96 0 0 1 808.12,658.97 L792.20,650.24 A339.80,339.80 0 0 0 792.26,650.13 Z" fill="#A6E8E0"/>
<path d="M796.69,678.36 A357.96,357.96 0 0 1 796.63,678.45 L781.29,668.73 A339.80,339.80 0 0 0 781.34,668.64 Z" fill="#A6E8E0"/>
<path d="M783.99,697.08 A357.96,357.96 0 0 1 771.05,713.84 L757.01,702.33 A339.80,339.80 0 0 0 769.29,686.41 Z" fill="#5CC8C0"/>
<path d="M756.24,730.79 A357.96,357.96 0 0 1 749.84,737.49 L736.88,724.77 A339.80,339.80 0 0 0 742.95,718.42 Z" fill="#1A9DB3"/>
<path d="M733.59,753.05 A357.96,357.96 0 0 1 728.84,757.25 L716.94,743.53 A339.80,339.80 0 0 0 721.44,739.55 Z" fill="#178E9F"/>
<path d="M711.38,771.46 A357.96,357.96 0 0 1 692.76,784.75 L682.69,769.64 A339.80,339.80 0 0 0 700.37,757.02 Z" fill="#17A3BA"/>
<path d="M673.64,796.63 A357.96,357.96 0 0 1 667.88,799.90 L659.08,784.02 A339.80,339.80 0 0 0 664.54,780.92 Z" fill="#1FB3CB"/>
<path d="M647.87,810.19 A357.96,357.96 0 0 1 640.32,813.67 L632.91,797.09 A339.80,339.80 0 0 0 640.07,793.79 Z" fill="#1BA7BF"/>
<path d="M619.50,822.20 A357.96,357.96 0 0 1 615.23,823.77 L609.10,806.67 A339.80,339.80 0 0 0 613.14,805.19 Z" fill="#1DB6CE"/>
<path d="M593.82,830.70 A357.96,357.96 0 0 1 587.19,832.55 L582.48,815.02 A339.80,339.80 0 0 0 588.77,813.26 Z" fill="#2CB8D0"/>
<path d="M565.28,837.71 A357.96,357.96 0 0 1 541.08,841.75 L538.71,823.75 A339.80,339.80 0 0 0 561.68,819.91 Z" fill="#55C4D8"/>
<path d="M518.69,843.99 A357.96,357.96 0 0 1 498.99,844.80 L498.75,826.64 A339.80,339.80 0 0 0 517.45,825.88 Z" fill="#55C4D8"/>
<path d="M476.48,844.39 A357.96,357.96 0 0 1 465.97,843.71 L467.40,825.61 A339.80,339.80 0 0 0 477.38,826.25 Z" fill="#A8DCEB"/>
<path d="M443.60,841.23 A357.96,357.96 0 0 1 413.77,835.66 L417.85,817.97 A339.80,339.80 0 0 0 446.17,823.25 Z" fill="#A8DCEB"/>
<path d="M392.00,829.92 A357.96,357.96 0 0 1 380.79,826.37 L386.55,809.15 A339.80,339.80 0 0 0 397.19,812.51 Z" fill="#A8E8E0"/>
<path d="M359.68,818.57 A357.96,357.96 0 0 1 338.52,809.18 L346.42,792.83 A339.80,339.80 0 0 0 366.50,801.74 Z" fill="#8EE4D4"/>
<path d="M318.57,798.76 A357.96,357.96 0 0 1 311.23,794.50 L320.51,778.90 A339.80,339.80 0 0 0 327.49,782.93 Z" fill="#D4F1EE"/>
<path d="M292.25,782.39 A357.96,357.96 0 0 1 282.40,775.41 L293.15,760.77 A339.80,339.80 0 0 0 302.50,767.40 Z" fill="#A2E8DE"/>
<path d="M264.69,761.53 A357.96,357.96 0 0 1 257.87,755.68 L269.86,742.04 A339.80,339.80 0 0 0 276.33,747.59 Z" fill="#5CC8C0"/>
<path d="M241.44,740.29 A357.96,357.96 0 0 1 230.54,728.93 L243.92,716.65 A339.80,339.80 0 0 0 254.26,727.43 Z" fill="#1696AA"/>
<path d="M215.85,711.87 A357.96,357.96 0 0 1 201.82,693.32 L216.66,682.84 A339.80,339.80 0 0 0 229.97,700.46 Z" fill="#16899B"/>
<path d="M189.42,674.53 A357.96,357.96 0 0 1 181.92,661.76 L197.77,652.89 A339.80,339.80 0 0 0 204.89,665.01 Z" fill="#1BA9C1"/>
<path d="M171.55,641.78 A357.96,357.96 0 0 1 165.10,627.57 L181.80,620.43 A339.80,339.80 0 0 0 187.92,633.92 Z" fill="#1AAEC6"/>
<path d="M156.91,606.61 A357.96,357.96 0 0 1 153.03,595.04 L170.34,589.55 A339.80,339.80 0 0 0 174.02,600.53 Z" fill="#18A7C0"/>
<path d="M146.90,573.38 A357.96,357.96 0 0 1 144.30,562.16 L162.05,558.34 A339.80,339.80 0 0 0 164.52,568.99 Z" fill="#1EBAD2"/>
<path d="M140.26,540.02 A357.96,357.96 0 0 1 136.56,500.80 L154.71,500.09 A339.80,339.80 0 0 0 158.22,537.32 Z" fill="#3CBCD4"/>
<path d="M136.39,478.29 A357.96,357.96 0 0 1 136.97,464.80 L155.10,465.92 A339.80,339.80 0 0 0 154.55,478.73 Z" fill="#57C4D8"/>
<path d="M139.06,442.39 A357.96,357.96 0 0 1 139.86,436.46 L157.84,439.02 A339.80,339.80 0 0 0 157.08,444.65 Z" fill="#42BFD6"/>
<path d="M143.73,414.29 A357.96,357.96 0 0 1 149.21,391.56 L166.72,396.39 A339.80,339.80 0 0 0 161.51,417.97 Z" fill="#9CD8E8"/>
<path d="M155.88,370.06 A357.96,357.96 0 0 1 158.16,363.65 L175.22,369.91 A339.80,339.80 0 0 0 173.05,375.99 Z" fill="#AEDCEC"/>
<path d="M166.57,342.78 A357.96,357.96 0 0 1 174.63,325.69 L190.85,333.86 A339.80,339.80 0 0 0 183.20,350.09 Z" fill="#94DED8"/>
<path d="M185.39,305.92 A357.96,357.96 0 0 1 188.81,300.21 L204.30,309.68 A339.80,339.80 0 0 0 201.06,315.10 Z" fill="#88E0D2"/>
<path d="M201.14,281.39 A357.96,357.96 0 0 1 211.31,267.59 L225.67,278.72 A339.80,339.80 0 0 0 216.01,291.81 Z" fill="#D2F1EC"/>
<path d="M225.66,250.24 A357.96,357.96 0 0 1 238.34,236.58 L251.32,249.28 A339.80,339.80 0 0 0 239.28,262.25 Z" fill="#A8EADF"/>
<path d="M254.58,220.99 A357.96,357.96 0 0 1 278.65,201.12 L289.59,215.62 A339.80,339.80 0 0 0 266.73,234.48 Z" fill="#63C9C1"/>
<path d="M297.04,188.14 A357.96,357.96 0 0 1 304.99,183.04 L314.59,198.45 A339.80,339.80 0 0 0 307.04,203.29 Z" fill="#1B97AE"/>
<path d="M324.46,171.74 A357.96,357.96 0 0 1 336.21,165.69 L344.23,181.98 A339.80,339.80 0 0 0 333.07,187.73 Z" fill="#15889B"/>
<path d="M356.71,156.39 A357.96,357.96 0 0 1 368.03,151.90 L374.44,168.89 A339.80,339.80 0 0 0 363.69,173.15 Z" fill="#1BAEC6"/>
<path d="M389.34,144.63 A357.96,357.96 0 0 1 410.59,138.82 L414.84,156.48 A339.80,339.80 0 0 0 394.66,161.99 Z" fill="#18B2CA"/>
<path d="M432.63,134.25 A357.96,357.96 0 0 1 433.41,134.12 L436.49,152.01 A339.80,339.80 0 0 0 435.76,152.14 Z" fill="#49C4D9"/>
<path d="M455.70,130.99 A357.96,357.96 0 0 1 471.52,129.63 L472.67,147.76 A339.80,339.80 0 0 0 457.65,149.05 Z" fill="#1CBBD4"/>
<path d="M494.64,118.91 L494.62,128.91 A357.96,357.96 0 0 1 817.79,333.72 L826.83,329.44 M836.07,350.65 L826.78,354.36 A357.96,357.96 0 0 1 826.80,354.40 L836.09,350.70 M843.97,372.45 L834.46,375.56 A357.96,357.96 0 0 1 841.35,399.38 L851.05,396.94 M856.00,419.54 L846.17,421.37 A357.96,357.96 0 0 1 846.85,425.18 L856.71,423.46 M859.97,446.37 L850.03,447.47 A357.96,357.96 0 0 1 850.90,456.23 L860.86,455.37 M862.11,478.47 L852.12,478.70 A357.96,357.96 0 0 1 831.00,608.26 L840.40,611.66 M831.88,633.16 L822.70,629.19 A357.96,357.96 0 0 1 818.37,638.79 L827.43,643.03 M816.96,663.66 L808.19,658.86 A357.96,357.96 0 0 1 808.12,658.97 L816.89,663.78 M805.14,683.71 L796.69,678.36 A357.96,357.96 0 0 1 796.63,678.45 L805.07,683.81 M792.08,702.95 L783.99,697.08 A357.96,357.96 0 0 1 771.05,713.84 L778.78,720.18 M763.56,737.60 L756.24,730.79 A357.96,357.96 0 0 1 749.84,737.49 L756.98,744.49 M740.27,760.49 L733.59,753.05 A357.96,357.96 0 0 1 728.84,757.25 L735.39,764.80 M717.45,779.41 L711.38,771.46 A357.96,357.96 0 0 1 692.76,784.75 L698.30,793.07 M678.65,805.29 L673.64,796.63 A357.96,357.96 0 0 1 667.88,799.90 L672.73,808.64 M652.16,819.22 L647.87,810.19 A357.96,357.96 0 0 1 640.32,813.67 L644.40,822.80 M623.00,831.57 L619.50,822.20 A357.96,357.96 0 0 1 615.23,823.77 L618.61,833.18 M596.60,840.31 L593.82,830.70 A357.96,357.96 0 0 1 587.19,832.55 L589.79,842.21 M567.27,847.51 L565.28,837.71 A357.96,357.96 0 0 1 541.08,841.75 L542.39,851.67 M519.37,853.97 L518.69,843.99 A357.96,357.96 0 0 1 498.99,844.80 L499.12,854.80 M475.98,854.38 L476.48,844.39 A357.96,357.96 0 0 1 465.97,843.71 L465.18,853.68 M442.18,851.13 L443.60,841.23 A357.96,357.96 0 0 1 413.77,835.66 L411.52,845.41 M389.15,839.50 L392.00,829.92 A357.96,357.96 0 0 1 380.79,826.37 L377.62,835.86 M355.92,827.84 L359.68,818.57 A357.96,357.96 0 0 1 338.52,809.18 L334.17,818.18 M313.67,807.47 L318.57,798.76 A357.96,357.96 0 0 1 311.23,794.50 L306.11,803.10 M286.61,790.65 L292.25,782.39 A357.96,357.96 0 0 1 282.40,775.41 L276.49,783.47 M258.28,769.20 L264.69,761.53 A357.96,357.96 0 0 1 257.87,755.68 L251.26,763.19 M234.38,747.37 L241.44,740.29 A357.96,357.96 0 0 1 230.54,728.93 L223.17,735.69 M208.07,718.16 L215.85,711.87 A357.96,357.96 0 0 1 201.82,693.32 L193.65,699.09 M180.91,679.77 L189.42,674.53 A357.96,357.96 0 0 1 181.92,661.76 L173.20,666.64 M162.53,646.11 L171.55,641.78 A357.96,357.96 0 0 1 165.10,627.57 L155.91,631.50 M147.49,609.95 L156.91,606.61 A357.96,357.96 0 0 1 153.03,595.04 L143.49,598.06 M137.20,575.80 L146.90,573.38 A357.96,357.96 0 0 1 144.30,562.16 L134.52,564.27 M130.37,541.51 L140.26,540.02 A357.96,357.96 0 0 1 136.56,500.80 L126.57,501.19 M126.40,478.05 L136.39,478.29 A357.96,357.96 0 0 1 136.97,464.80 L126.99,464.19 M129.14,441.15 L139.06,442.39 A357.96,357.96 0 0 1 139.86,436.46 L129.96,435.05 M133.93,412.26 L143.73,414.29 A357.96,357.96 0 0 1 149.21,391.56 L139.57,388.90 M146.43,366.80 L155.88,370.06 A357.96,357.96 0 0 1 158.16,363.65 L148.78,360.21 M157.42,338.75 L166.57,342.78 A357.96,357.96 0 0 1 174.63,325.69 L165.70,321.18 M176.77,300.86 L185.39,305.92 A357.96,357.96 0 0 1 188.81,300.21 L180.28,295.00 M192.95,275.65 L201.14,281.39 A357.96,357.96 0 0 1 211.31,267.59 L203.41,261.47 M218.15,243.63 L225.66,250.24 A357.96,357.96 0 0 1 238.34,236.58 L231.19,229.59 M247.88,213.56 L254.58,220.99 A357.96,357.96 0 0 1 278.65,201.12 L272.63,193.14 M291.53,179.79 L297.04,188.14 A357.96,357.96 0 0 1 304.99,183.04 L299.70,174.55 M319.71,162.94 L324.46,171.74 A357.96,357.96 0 0 1 336.21,165.69 L331.80,156.71 M352.87,147.16 L356.71,156.39 A357.96,357.96 0 0 1 368.03,151.90 L364.51,142.54 M386.40,135.07 L389.34,144.63 A357.96,357.96 0 0 1 410.59,138.82 L408.26,129.10 M430.91,124.40 L432.63,134.25 A357.96,357.96 0 0 1 433.41,134.12 L431.71,124.26 M454.62,121.05 L455.70,130.99 A357.96,357.96 0 0 1 471.52,129.63 L470.88,119.65 M782.43,274.53 L790.48,268.59 M655.86,167.47 L658.11,163.00" fill="none" stroke="#000" stroke-width="2" stroke-linejoin="miter"/>
<g font-family="Liberation Serif" font-weight="bold">
<text x="829.58" y="328.14" transform="rotate(-25.33 829.58 328.14)" text-anchor="start" dy="0.7" class="v">6032.01</text>
<text x="714.53" y="139.29" transform="rotate(-57.64 714.53 139.29)" text-anchor="start" dy="1.5" class="n">NP</text>
<text x="838.91" y="349.57" transform="rotate(-21.72 838.91 349.57)" text-anchor="start" dy="0.7" class="v">0.71</text>
<text x="876.52" y="334.56" transform="rotate(-21.72 876.52 334.56)" text-anchor="start" dy="1.5" class="n">PD</text>
<text x="854.00" y="396.19" transform="rotate(-14.15 854.00 396.19)" text-anchor="start" dy="0.7" class="v">370.63</text>
<text x="889.55" y="372.54" transform="rotate(-16.13 889.55 372.54)" text-anchor="start" dy="1.5" class="n">LPI</text>
<text x="859.70" y="422.94" transform="rotate(-9.92 859.70 422.94)" text-anchor="start" dy="0.7" class="v">57.92</text>
<text x="899.20" y="413.76" transform="rotate(-10.23 899.20 413.76)" text-anchor="start" dy="1.5" class="n">ED</text>
<text x="863.89" y="455.11" transform="rotate(-4.91 863.89 455.11)" text-anchor="start" dy="0.7" class="v">131.53</text>
<text x="903.78" y="446.60" transform="rotate(-5.62 903.78 446.60)" text-anchor="start" dy="1.5" class="n">LSI</text>
<text x="843.26" y="612.69" transform="rotate(19.82 843.26 612.69)" text-anchor="start" dy="0.7" class="v">1972.87</text>
<text x="900.39" y="553.07" transform="rotate(9.26 900.39 553.07)" text-anchor="start" dy="1.5" class="n">AREA_MN</text>
<text x="830.18" y="644.32" transform="rotate(25.11 830.18 644.32)" text-anchor="start" dy="0.7" class="v">157.35</text>
<text x="869.38" y="656.01" transform="rotate(24.27 869.38 656.01)" text-anchor="start" dy="1.5" class="n">CONTAG</text>
<text x="819.56" y="665.24" transform="rotate(28.74 819.56 665.24)" text-anchor="start" dy="0.7" class="v">1.92</text>
<text x="855.11" y="684.65" transform="rotate(28.73 855.11 684.65)" text-anchor="start" dy="1.5" class="n">SHDI</text>
<text x="807.64" y="685.43" transform="rotate(32.36 807.64 685.43)" text-anchor="start" dy="0.7" class="v">1.74</text>
<text x="841.89" y="707.05" transform="rotate(32.35 841.89 707.05)" text-anchor="start" dy="1.5" class="n">SHEI</text>
<text x="781.13" y="722.11" transform="rotate(39.35 781.13 722.11)" text-anchor="start" dy="0.7" class="v">316.47</text>
<text x="820.03" y="738.27" transform="rotate(37.66 820.03 738.27)" text-anchor="start" dy="1.5" class="n">Hefei</text>
<text x="759.15" y="746.61" transform="rotate(44.44 759.15 746.61)" text-anchor="start" dy="0.7" class="v">138.37</text>
<text x="791.77" y="771.15" transform="rotate(43.70 791.77 771.15)" text-anchor="start" dy="1.5" class="n">Wuhu</text>
<text x="737.38" y="767.10" transform="rotate(49.05 737.38 767.10)" text-anchor="start" dy="0.7" class="v">94.68</text>
<text x="766.67" y="795.29" transform="rotate(48.55 766.67 795.29)" text-anchor="start" dy="1.5" class="n">Bengbu</text>
<text x="699.99" y="795.60" transform="rotate(56.32 699.99 795.60)" text-anchor="start" dy="0.7" class="v">341.98</text>
<text x="733.27" y="821.83" transform="rotate(54.49 733.27 821.83)" text-anchor="start" dy="1.5" class="n">Huainan</text>
<text x="674.21" y="811.30" transform="rotate(60.98 674.21 811.30)" text-anchor="start" dy="0.7" class="v">98.92</text>
<text x="697.17" y="844.86" transform="rotate(60.45 697.17 844.86)" text-anchor="start" dy="1.5" class="n">Ma'anshan</text>
<text x="645.65" y="825.57" transform="rotate(65.92 645.65 825.57)" text-anchor="start" dy="0.7" class="v">124.14</text>
<text x="666.52" y="860.57" transform="rotate(65.25 666.52 860.57)" text-anchor="start" dy="1.5" class="n">Huaibei</text>
<text x="619.64" y="836.04" transform="rotate(70.25 619.64 836.04)" text-anchor="start" dy="0.7" class="v">67.84</text>
<text x="635.78" y="873.26" transform="rotate(69.88 635.78 873.26)" text-anchor="start" dy="1.5" class="n">Tongling</text>
<text x="590.58" y="845.15" transform="rotate(74.95 590.58 845.15)" text-anchor="start" dy="0.7" class="v">102.87</text>
<text x="604.91" y="883.21" transform="rotate(74.40 604.91 883.21)" text-anchor="start" dy="1.5" class="n">Anqing</text>
<text x="542.79" y="854.68" transform="rotate(82.48 542.79 854.68)" text-anchor="start" dy="0.7" class="v">366.70</text>
<text x="562.04" y="892.75" transform="rotate(80.52 562.04 892.75)" text-anchor="start" dy="1.5" class="n">Huangshan</text>
<text x="499.16" y="857.84" transform="rotate(89.24 499.16 857.84)" text-anchor="start" dy="0.7" class="v">294.69</text>
<text x="511.02" y="898.03" transform="rotate(87.66 511.02 898.03)" text-anchor="start" dy="1.5" class="n">Chuzhou</text>
<text x="464.94" y="856.71" transform="rotate(-85.47 464.94 856.71)" text-anchor="end" dy="0.7" class="v">157.44</text>
<text x="467.68" y="899.01" transform="rotate(-86.31 467.68 899.01)" text-anchor="end" dy="1.5" class="n">Fuyang</text>
<text x="410.83" y="848.37" transform="rotate(-77.01 410.83 848.37)" text-anchor="end" dy="0.7" class="v">453.60</text>
<text x="418.53" y="892.87" transform="rotate(-79.44 418.53 892.87)" text-anchor="end" dy="1.5" class="n">Suzhou</text>
<text x="376.66" y="838.74" transform="rotate(-71.52 376.66 838.74)" text-anchor="end" dy="0.7" class="v">175.75</text>
<text x="369.80" y="880.67" transform="rotate(-72.46 369.80 880.67)" text-anchor="end" dy="1.5" class="n">Lu'an</text>
<text x="332.85" y="820.92" transform="rotate(-64.21 332.85 820.92)" text-anchor="end" dy="0.7" class="v">345.94</text>
<text x="326.69" y="864.35" transform="rotate(-66.06 326.69 864.35)" text-anchor="end" dy="1.5" class="n">Bozhou</text>
<text x="304.56" y="805.71" transform="rotate(-59.25 304.56 805.71)" text-anchor="end" dy="0.7" class="v">126.86</text>
<text x="287.31" y="844.28" transform="rotate(-59.93 287.31 844.28)" text-anchor="end" dy="1.5" class="n">Chizhou</text>
<text x="274.69" y="785.92" transform="rotate(-53.71 274.69 785.92)" text-anchor="end" dy="0.7" class="v">180.43</text>
<text x="255.48" y="823.85" transform="rotate(-54.68 255.48 823.85)" text-anchor="end" dy="1.5" class="n">Xuancheng</text>
<text x="249.25" y="765.47" transform="rotate(-48.67 249.25 765.47)" text-anchor="end" dy="0.7" class="v">134.29</text>
<text x="225.43" y="800.41" transform="rotate(-49.39 225.43 800.41)" text-anchor="end" dy="1.5" class="n">Nanjing</text>
<text x="220.93" y="737.74" transform="rotate(-42.55 220.93 737.74)" text-anchor="end" dy="0.7" class="v">235.35</text>
<text x="196.21" y="772.77" transform="rotate(-43.81 196.21 772.77)" text-anchor="end" dy="1.5" class="n">Wuxi</text>
<text x="191.17" y="700.84" transform="rotate(-35.22 191.17 700.84)" text-anchor="end" dy="0.7" class="v">347.65</text>
<text x="164.77" y="735.90" transform="rotate(-37.08 164.77 735.90)" text-anchor="end" dy="1.5" class="n">Xuzhou</text>
<text x="170.54" y="668.13" transform="rotate(-29.25 170.54 668.13)" text-anchor="end" dy="0.7" class="v">221.40</text>
<text x="138.15" y="696.06" transform="rotate(-30.43 138.15 696.06)" text-anchor="end" dy="1.5" class="n">Changzhou</text>
<text x="153.11" y="632.70" transform="rotate(-23.15 153.11 632.70)" text-anchor="end" dy="0.7" class="v">233.22</text>
<text x="118.12" y="657.44" transform="rotate(-24.39 118.12 657.44)" text-anchor="end" dy="1.5" class="n">Nantong</text>
<text x="140.59" y="598.98" transform="rotate(-17.59 140.59 598.98)" text-anchor="end" dy="0.7" class="v">182.31</text>
<text x="102.74" y="618.36" transform="rotate(-18.57 102.74 618.36)" text-anchor="end" dy="1.5" class="n">Lianyungang</text>
<text x="131.55" y="564.91" transform="rotate(-12.14 131.55 564.91)" text-anchor="end" dy="0.7" class="v">172.11</text>
<text x="91.94" y="580.22" transform="rotate(-13.06 91.94 580.22)" text-anchor="end" dy="1.5" class="n">Huai'an</text>
<text x="123.53" y="501.31" transform="rotate(-2.23 123.53 501.31)" text-anchor="end" dy="0.7" class="v">589.03</text>
<text x="83.07" y="525.63" transform="rotate(-5.38 83.07 525.63)" text-anchor="end" dy="1.5" class="n">Yancheng</text>
<text x="123.96" y="464.00" transform="rotate(-356.47 123.96 464.00)" text-anchor="end" dy="0.7" class="v">201.76</text>
<text x="81.63" y="469.19" transform="rotate(-357.55 81.63 469.19)" text-anchor="end" dy="1.5" class="n">Yangzhou</text>
<text x="126.95" y="434.62" transform="rotate(-351.90 126.95 434.62)" text-anchor="end" dy="0.7" class="v">89.42</text>
<text x="84.89" y="432.13" transform="rotate(-352.38 84.89 432.13)" text-anchor="end" dy="1.5" class="n">Zhenjiang</text>
<text x="136.64" y="388.09" transform="rotate(-344.56 136.64 388.09)" text-anchor="end" dy="0.7" class="v">349.47</text>
<text x="92.78" y="389.96" transform="rotate(-346.43 92.78 389.96)" text-anchor="end" dy="1.5" class="n">Taizhou</text>
<text x="145.92" y="359.17" transform="rotate(-339.87 145.92 359.17)" text-anchor="end" dy="0.7" class="v">101.64</text>
<text x="105.16" y="348.40" transform="rotate(-340.41 105.16 348.40)" text-anchor="end" dy="1.5" class="n">Suqian</text>
<text x="162.99" y="319.81" transform="rotate(-333.24 162.99 319.81)" text-anchor="end" dy="0.7" class="v">282.39</text>
<text x="120.71" y="310.70" transform="rotate(-334.75 120.71 310.70)" text-anchor="end" dy="1.5" class="n">Hangzhou</text>
<text x="177.68" y="293.41" transform="rotate(-328.57 177.68 293.41)" text-anchor="end" dy="0.7" class="v">99.34</text>
<text x="139.86" y="274.79" transform="rotate(-329.10 139.86 274.79)" text-anchor="end" dy="1.5" class="n">Huzhou</text>
<text x="201.01" y="259.60" transform="rotate(-322.22 201.01 259.60)" text-anchor="end" dy="0.7" class="v">256.14</text>
<text x="161.85" y="241.76" transform="rotate(-323.60 161.85 241.76)" text-anchor="end" dy="1.5" class="n">Jiaxing</text>
<text x="229.02" y="227.46" transform="rotate(-315.64 229.02 227.46)" text-anchor="end" dy="0.7" class="v">278.63</text>
<text x="191.57" y="205.88" transform="rotate(-317.13 191.57 205.88)" text-anchor="end" dy="1.5" class="n">Jinhua</text>
<text x="270.80" y="190.71" transform="rotate(-307.03 270.80 190.71)" text-anchor="end" dy="0.7" class="v">466.62</text>
<text x="231.36" y="168.34" transform="rotate(-309.53 231.36 168.34)" text-anchor="end" dy="1.5" class="n">Lishui</text>
<text x="298.09" y="171.97" transform="rotate(-301.92 298.09 171.97)" text-anchor="end" dy="0.7" class="v">141.19</text>
<text x="271.28" y="139.23" transform="rotate(-302.68 271.28 139.23)" text-anchor="end" dy="1.5" class="n">Ningbo</text>
<text x="330.45" y="153.99" transform="rotate(-296.20 330.45 153.99)" text-anchor="end" dy="0.7" class="v">197.58</text>
<text x="305.10" y="119.73" transform="rotate(-297.26 305.10 119.73)" text-anchor="end" dy="1.5" class="n">Quzhou</text>
<text x="363.44" y="139.70" transform="rotate(-290.65 363.44 139.70)" text-anchor="end" dy="0.7" class="v">182.06</text>
<text x="342.07" y="102.93" transform="rotate(-291.62 342.07 102.93)" text-anchor="end" dy="1.5" class="n">Shaoxing</text>
<text x="407.55" y="126.14" transform="rotate(-283.52 407.55 126.14)" text-anchor="end" dy="0.7" class="v">329.35</text>
<text x="385.42" y="88.47" transform="rotate(-285.28 385.42 88.47)" text-anchor="end" dy="1.5" class="n">Wenzhou</text>
<text x="431.19" y="121.27" transform="rotate(-279.79 431.19 121.27)" text-anchor="end" dy="0.7" class="v">11.77</text>
<text x="423.61" y="79.96" transform="rotate(-279.85 423.61 79.96)" text-anchor="end" dy="1.5" class="n">Zhoushan</text>
<text x="470.69" y="116.62" transform="rotate(-273.64 470.69 116.62)" text-anchor="end" dy="0.7" class="v">237.29</text>
<text x="458.89" y="75.39" transform="rotate(-274.91 458.89 75.39)" text-anchor="end" dy="1.5" class="n">Shanghai</text>
<text x="792.92" y="266.79" transform="rotate(-36.38 792.92 266.79)" text-anchor="start" dy="0.7" class="v">5000.00</text>
</g>
</svg>
</body></html>
